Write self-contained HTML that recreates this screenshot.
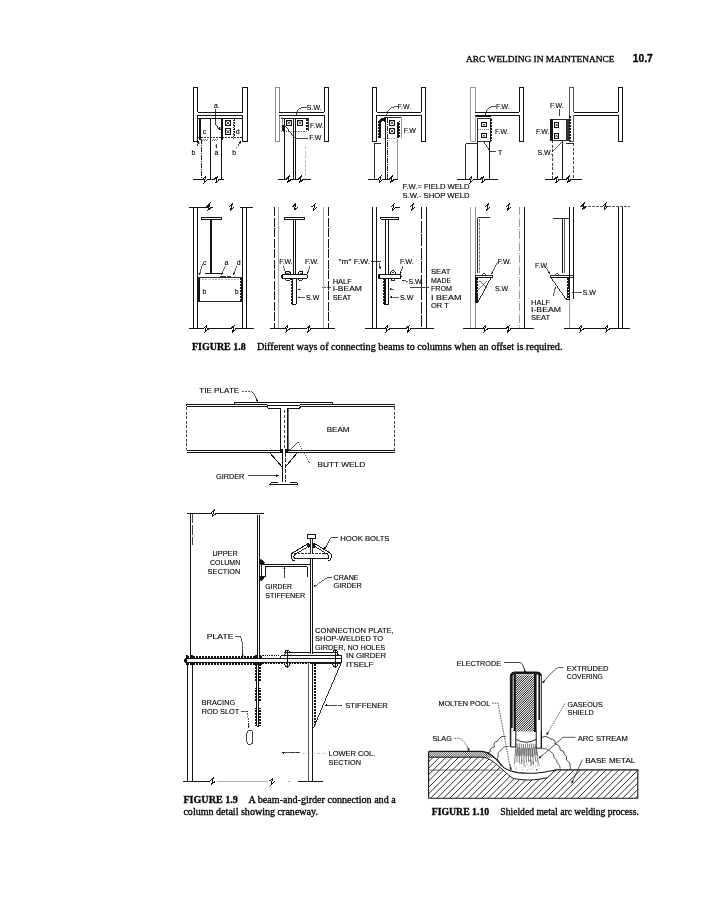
<!DOCTYPE html>
<html><head><meta charset="utf-8"><title>Arc Welding in Maintenance 10.7</title>
<style>html,body{margin:0;padding:0;background:#fff;}svg{display:block;filter:grayscale(100%);}
</style></head>
<body><svg width="718" height="900" viewBox="0 0 718 900" stroke-linecap="butt" shape-rendering="crispEdges">
<rect width="718" height="900" fill="#fff"/>
<text x="466.1" y="62.0" style="font-family:&quot;Liberation Serif&quot;,serif;font-size:9.2px;font-weight:normal;letter-spacing:0px" text-anchor="start" fill="#000" stroke="#000" stroke-width="0.3" textLength="148.5" lengthAdjust="spacingAndGlyphs">ARC WELDING IN MAINTENANCE</text>
<text x="632.7" y="62.0" style="font-family:&quot;Liberation Sans&quot;,sans-serif;font-size:10.2px;font-weight:bold;letter-spacing:0px" text-anchor="start" fill="#000" stroke="#000" stroke-width="0.3" textLength="20.1" lengthAdjust="spacingAndGlyphs">10.7</text>
<path d="M193.4,141.0 V87.0 H197.8 V112.1" stroke="#141414" stroke-width="1.0" fill="none"/>
<path d="M197.8,115.4 V141.0 H193.4" stroke="#141414" stroke-width="1.0" fill="none"/>
<path d="M242.6,112.1 V87.0 H247.0 V141.0 H242.6 V115.4" stroke="#141414" stroke-width="1.0" fill="none"/>
<line x1="197.8" y1="112.1" x2="242.6" y2="112.1" stroke="#141414" stroke-width="1.0"/>
<line x1="197.8" y1="115.4" x2="242.6" y2="115.4" stroke="#141414" stroke-width="1.0"/>
<path d="M275.0,141.0 V87.0 H279.4 V112.1" stroke="#8a8a8a" stroke-width="1.0" fill="none"/>
<path d="M279.4,115.4 V141.0 H275.0" stroke="#8a8a8a" stroke-width="1.0" fill="none"/>
<path d="M324.2,112.1 V87.0 H328.6 V141.0 H324.2 V115.4" stroke="#141414" stroke-width="1.0" fill="none"/>
<line x1="279.4" y1="112.1" x2="324.2" y2="112.1" stroke="#141414" stroke-width="1.0"/>
<line x1="279.4" y1="115.4" x2="324.2" y2="115.4" stroke="#141414" stroke-width="1.0"/>
<path d="M372.4,141.0 V87.0 H376.8 V112.1" stroke="#141414" stroke-width="1.0" fill="none"/>
<path d="M376.8,115.4 V141.0 H372.4" stroke="#141414" stroke-width="1.0" fill="none"/>
<path d="M421.4,112.1 V87.0 H425.8 V141.0 H421.4 V115.4" stroke="#141414" stroke-width="1.0" fill="none"/>
<line x1="376.8" y1="112.1" x2="421.4" y2="112.1" stroke="#141414" stroke-width="1.0"/>
<line x1="376.8" y1="115.4" x2="421.4" y2="115.4" stroke="#141414" stroke-width="1.0"/>
<path d="M470.9,141.0 V87.0 H475.3 V112.1" stroke="#999" stroke-width="1.0" fill="none"/>
<path d="M475.3,115.4 V141.0 H470.9" stroke="#999" stroke-width="1.0" fill="none"/>
<path d="M519.3,112.1 V87.0 H523.7 V141.0 H519.3 V115.4" stroke="#141414" stroke-width="1.0" fill="none"/>
<line x1="475.3" y1="112.1" x2="519.3" y2="112.1" stroke="#141414" stroke-width="1.0"/>
<line x1="475.3" y1="115.4" x2="519.3" y2="115.4" stroke="#141414" stroke-width="1.0"/>
<path d="M569.3,141.0 V87.0 H573.7 V112.1" stroke="#555" stroke-width="1.0" fill="none"/>
<path d="M573.7,115.4 V141.0 H569.3" stroke="#555" stroke-width="1.0" fill="none"/>
<path d="M618.1,112.1 V87.0 H622.5 V141.0 H618.1 V115.4" stroke="#141414" stroke-width="1.0" fill="none"/>
<line x1="573.7" y1="112.1" x2="618.1" y2="112.1" stroke="#141414" stroke-width="1.0"/>
<line x1="573.7" y1="115.4" x2="618.1" y2="115.4" stroke="#141414" stroke-width="1.0"/>
<line x1="198.0" y1="118.1" x2="242.6" y2="118.1" stroke="#141414" stroke-width="1.0"/>
<line x1="198.0" y1="137.3" x2="242.6" y2="137.3" stroke="#141414" stroke-width="0.9" stroke-dasharray="2,1"/>
<rect x="199.2" y="118.3" width="2.1" height="21.8" fill="#141414"/>
<path d="M201.5,140.2 q1,-1.2 2,0 q1,-1.2 2,0 q1,-1.2 2,0 M211.5,140.2 q1,-1.2 2,0 q1,-1.2 2,0 q1,-1.2 2,0" stroke="#141414" stroke-width="0.6" fill="none"/>
<line x1="210.6" y1="118.1" x2="210.6" y2="179.4" stroke="#141414" stroke-width="1.0"/>
<line x1="221.5" y1="118.1" x2="221.5" y2="179.4" stroke="#141414" stroke-width="1.0"/>
<line x1="221.8" y1="118.1" x2="221.8" y2="139.5" stroke="#141414" stroke-width="1.6"/>
<line x1="233.9" y1="118.1" x2="233.9" y2="138.5" stroke="#141414" stroke-width="0.9" stroke-dasharray="1,0.8"/>
<path d="M234.3,119.0h1.0 M234.3,120.5h1.0 M234.3,122.0h1.0 M234.3,123.5h1.0 M234.3,125.0h1.0 M234.3,126.5h1.0 M234.3,128.0h1.0 M234.3,129.5h1.0 M234.3,131.0h1.0 M234.3,132.5h1.0 M234.3,134.0h1.0 M234.3,135.5h1.0 M234.3,137.0h1.0" stroke="#141414" stroke-width="1.0" fill="none"/>
<line x1="201.4" y1="138.5" x2="201.4" y2="179.4" stroke="#141414" stroke-width="0.9" stroke-dasharray="5,1,1,1"/>
<rect x="225.1" y="120.0" width="5.8" height="5.8" rx="0" stroke="#141414" stroke-width="1.0" fill="none"/>
<path d="M226.3,121.2L229.7,124.6M229.7,121.2L226.3,124.6" stroke="#333" stroke-width="1" shape-rendering="auto"/>
<rect x="225.1" y="128.8" width="5.8" height="5.8" rx="0" stroke="#141414" stroke-width="1.0" fill="none"/>
<path d="M226.3,130.0L229.7,133.4M229.7,130.0L226.3,133.4" stroke="#333" stroke-width="1" shape-rendering="auto"/>
<path d="M215.3,108.5 V123.5 L220.2,129.2" stroke="#141414" stroke-width="0.8" fill="none"/>
<line x1="215.3" y1="123.5" x2="220.6" y2="129.6" stroke="#141414" stroke-width="0.8"/>
<path d="M220.6,129.6L218.1,128.6L219.9,127.0Z" stroke="#141414" stroke-width="0.3" fill="#141414"/>
<text x="214.0" y="107.8" style="font-family:&quot;Liberation Sans&quot;,sans-serif;font-size:7.8px;font-weight:normal;letter-spacing:0px" text-anchor="start" fill="#000" stroke="#000" stroke-width="0.12" textLength="3.9" lengthAdjust="spacingAndGlyphs">a</text>
<text x="202.8" y="133.6" style="font-family:&quot;Liberation Sans&quot;,sans-serif;font-size:7.8px;font-weight:normal;letter-spacing:0px" text-anchor="start" fill="#000" stroke="#000" stroke-width="0.12" textLength="3.5" lengthAdjust="spacingAndGlyphs">c</text>
<text x="235.8" y="133.6" style="font-family:&quot;Liberation Sans&quot;,sans-serif;font-size:7.8px;font-weight:normal;letter-spacing:0px" text-anchor="start" fill="#000" stroke="#000" stroke-width="0.12" textLength="3.9" lengthAdjust="spacingAndGlyphs">d</text>
<text x="191.5" y="155.3" style="font-family:&quot;Liberation Sans&quot;,sans-serif;font-size:7.8px;font-weight:normal;letter-spacing:0px" text-anchor="start" fill="#000" stroke="#000" stroke-width="0.12" textLength="3.9" lengthAdjust="spacingAndGlyphs">b</text>
<text x="214.6" y="154.6" style="font-family:&quot;Liberation Sans&quot;,sans-serif;font-size:7.8px;font-weight:normal;letter-spacing:0px" text-anchor="start" fill="#000" stroke="#000" stroke-width="0.12" textLength="3.9" lengthAdjust="spacingAndGlyphs">a</text>
<text x="232.3" y="154.6" style="font-family:&quot;Liberation Sans&quot;,sans-serif;font-size:7.8px;font-weight:normal;letter-spacing:0px" text-anchor="start" fill="#000" stroke="#000" stroke-width="0.12" textLength="3.9" lengthAdjust="spacingAndGlyphs">b</text>
<text x="236.3" y="150.6" style="font-family:&quot;Liberation Sans&quot;,sans-serif;font-size:5px;font-weight:normal;letter-spacing:0px" text-anchor="start" fill="#000" stroke="#000" stroke-width="0.12" textLength="0.8" lengthAdjust="spacingAndGlyphs">′</text>
<line x1="197.4" y1="146.2" x2="198.8" y2="141.0" stroke="#141414" stroke-width="0.8"/>
<path d="M198.8,141.0L199.3,143.6L197.0,143.0Z" stroke="#141414" stroke-width="0.3" fill="#141414"/>
<line x1="238.5" y1="145.5" x2="240.8" y2="140.8" stroke="#141414" stroke-width="0.8"/>
<path d="M240.8,140.8L240.8,143.5L238.7,142.4Z" stroke="#141414" stroke-width="0.3" fill="#141414"/>
<line x1="216.2" y1="144.0" x2="216.2" y2="147.5" stroke="#141414" stroke-width="0.7"/>
<path d="M216.2,147.5L215.3,145.9L217.1,145.9Z" stroke="#141414" stroke-width="0.3" fill="#141414"/>
<line x1="192.5" y1="179.4" x2="224.3" y2="179.4" stroke="#141414" stroke-width="1.0"/>
<rect x="203.5" y="178.7" width="3.0" height="1.4" fill="#fff"/>
<path d="M202.4,179.4 L205.7,176.3 L204.1,182.5 L207.6,179.6" stroke="#141414" stroke-width="1.0" fill="none"/>
<rect x="215.3" y="178.7" width="3.0" height="1.4" fill="#fff"/>
<path d="M214.2,179.4 L217.5,176.3 L215.9,182.5 L219.4,179.6" stroke="#141414" stroke-width="1.0" fill="none"/>
<line x1="280.9" y1="118.1" x2="308.4" y2="118.1" stroke="#141414" stroke-width="1.0"/>
<line x1="282.9" y1="117.1" x2="282.9" y2="131.3" stroke="#888" stroke-width="0.9"/>
<line x1="308.4" y1="118.1" x2="308.4" y2="131.0" stroke="#141414" stroke-width="0.8"/>
<path d="M306.2,119.0h2.2 M306.2,120.5h2.2 M306.2,122.0h2.2 M306.2,123.5h2.2 M306.2,125.0h2.2 M306.2,126.5h2.2 M306.2,128.0h2.2 M306.2,129.5h2.2" stroke="#141414" stroke-width="1.0" fill="none"/>
<line x1="280.9" y1="131.0" x2="308.4" y2="131.0" stroke="#141414" stroke-width="0.6" stroke-dasharray="1.5,1"/>
<line x1="284.2" y1="118.1" x2="284.2" y2="179.4" stroke="#141414" stroke-width="1.0"/>
<line x1="293.4" y1="118.1" x2="293.4" y2="179.4" stroke="#141414" stroke-width="1.0"/>
<line x1="295.9" y1="118.1" x2="295.9" y2="179.4" stroke="#141414" stroke-width="1.0"/>
<line x1="305.4" y1="146.0" x2="305.4" y2="179.4" stroke="#aaa" stroke-width="0.8" stroke-dasharray="3,1.5"/>
<rect x="286.2" y="120.0" width="5.4" height="5.4" rx="0" stroke="#141414" stroke-width="1.0" fill="none"/>
<path d="M287.4,121.2L290.4,124.2M290.4,121.2L287.4,124.2" stroke="#333" stroke-width="1" shape-rendering="auto"/>
<rect x="297.2" y="120.0" width="5.4" height="5.4" rx="0" stroke="#141414" stroke-width="1.0" fill="none"/>
<path d="M298.4,121.2L301.4,124.2M301.4,121.2L298.4,124.2" stroke="#333" stroke-width="1" shape-rendering="auto"/>
<path d="M284.5,125 L295.1,138.5 H308.4" stroke="#141414" stroke-width="0.8" fill="none"/>
<rect x="281.5" y="125.0" width="2.0" height="6.0" fill="#141414"/>
<path d="M306.5,107.2 Q300,107 298,110 L296.5,115" stroke="#141414" stroke-width="0.8" fill="none"/>
<text x="306.8" y="110.1" style="font-family:&quot;Liberation Sans&quot;,sans-serif;font-size:7.8px;font-weight:normal;letter-spacing:0px" text-anchor="start" fill="#000" stroke="#000" stroke-width="0.12" textLength="14.8" lengthAdjust="spacingAndGlyphs">S.W.</text>
<text x="310.0" y="127.6" style="font-family:&quot;Liberation Sans&quot;,sans-serif;font-size:7.8px;font-weight:normal;letter-spacing:0px" text-anchor="start" fill="#000" stroke="#000" stroke-width="0.12" textLength="13.6" lengthAdjust="spacingAndGlyphs">F.W.</text>
<text x="309.3" y="140.2" style="font-family:&quot;Liberation Sans&quot;,sans-serif;font-size:7.8px;font-weight:normal;letter-spacing:0px" text-anchor="start" fill="#000" stroke="#000" stroke-width="0.12" textLength="12.1" lengthAdjust="spacingAndGlyphs">F.W</text>
<line x1="278.4" y1="179.4" x2="311.0" y2="179.4" stroke="#141414" stroke-width="1.0"/>
<rect x="287.1" y="178.7" width="3.0" height="1.4" fill="#fff"/>
<path d="M286.0,179.4 L289.3,176.3 L287.7,182.5 L291.2,179.6" stroke="#141414" stroke-width="1.0" fill="none"/>
<rect x="299.1" y="178.7" width="3.0" height="1.4" fill="#fff"/>
<path d="M298.0,179.4 L301.3,176.3 L299.7,182.5 L303.2,179.6" stroke="#141414" stroke-width="1.0" fill="none"/>
<path d="M383.9,117.9 H401.0" stroke="#141414" stroke-width="0.9" fill="none"/>
<line x1="401.8" y1="117.0" x2="401.8" y2="138.4" stroke="#888" stroke-width="0.8"/>
<path d="M380.2,138.4 V122.5 Q380.2,119.2 383.2,119.2 Q385.2,119.4 385.4,121.5" stroke="#141414" stroke-width="2.3" fill="none"/>
<path d="M379.0,121.0h-1.2 M379.0,122.5h-1.2 M379.0,124.0h-1.2 M379.0,125.5h-1.2 M379.0,127.0h-1.2 M379.0,128.5h-1.2 M379.0,130.0h-1.2 M379.0,131.5h-1.2 M379.0,133.0h-1.2 M379.0,134.5h-1.2 M379.0,136.0h-1.2 M379.0,137.5h-1.2" stroke="#141414" stroke-width="1.0" fill="none"/>
<rect x="397.4" y="121.6" width="2.0" height="16.8" fill="#141414"/>
<path d="M399.4,121.6h1.0 M399.4,123.1h1.0 M399.4,124.6h1.0 M399.4,126.1h1.0 M399.4,127.6h1.0 M399.4,129.1h1.0 M399.4,130.6h1.0 M399.4,132.1h1.0 M399.4,133.6h1.0 M399.4,135.1h1.0 M399.4,136.6h1.0" stroke="#141414" stroke-width="1.0" fill="none"/>
<line x1="385.5" y1="118.2" x2="385.5" y2="179.4" stroke="#141414" stroke-width="1.2"/>
<line x1="387.6" y1="118.2" x2="387.6" y2="179.4" stroke="#141414" stroke-width="0.9" stroke-dasharray="5,1,1,1"/>
<line x1="383.0" y1="138.4" x2="397.5" y2="138.4" stroke="#777" stroke-width="0.7" stroke-dasharray="1.5,1"/>
<line x1="397.7" y1="138.5" x2="397.7" y2="179.4" stroke="#777" stroke-width="0.8"/>
<path d="M374.3,179.4V143.4H380.5" stroke="#141414" stroke-width="0.9" fill="none"/>
<rect x="389.3" y="120.0" width="5.4" height="5.4" rx="0" stroke="#141414" stroke-width="1.0" fill="none"/>
<path d="M390.5,121.2L393.5,124.2M393.5,121.2L390.5,124.2" stroke="#333" stroke-width="1" shape-rendering="auto"/>
<rect x="389.3" y="128.4" width="5.4" height="5.4" rx="0" stroke="#141414" stroke-width="1.0" fill="none"/>
<path d="M390.5,129.6L393.5,132.6M393.5,129.6L390.5,132.6" stroke="#333" stroke-width="1" shape-rendering="auto"/>
<path d="M397.5,106.7 H394 Q390,107 388,111 L386,116" stroke="#141414" stroke-width="0.8" fill="none"/>
<text x="397.6" y="109.2" style="font-family:&quot;Liberation Sans&quot;,sans-serif;font-size:7.8px;font-weight:normal;letter-spacing:0px" text-anchor="start" fill="#000" stroke="#000" stroke-width="0.12" textLength="13.6" lengthAdjust="spacingAndGlyphs">F.W.</text>
<text x="403.8" y="132.6" style="font-family:&quot;Liberation Sans&quot;,sans-serif;font-size:7.8px;font-weight:normal;letter-spacing:0px" text-anchor="start" fill="#000" stroke="#000" stroke-width="0.12" textLength="12.1" lengthAdjust="spacingAndGlyphs">F.W</text>
<line x1="368.4" y1="179.4" x2="398.4" y2="179.4" stroke="#141414" stroke-width="1.0"/>
<rect x="378.7" y="178.7" width="3.0" height="1.4" fill="#fff"/>
<path d="M377.6,179.4 L380.9,176.3 L379.3,182.5 L382.8,179.6" stroke="#141414" stroke-width="1.0" fill="none"/>
<rect x="390.1" y="178.7" width="3.0" height="1.4" fill="#fff"/>
<path d="M389.0,179.4 L392.3,176.3 L390.7,182.5 L394.2,179.6" stroke="#141414" stroke-width="1.0" fill="none"/>
<text x="402.6" y="188.6" style="font-family:&quot;Liberation Sans&quot;,sans-serif;font-size:7.3px;font-weight:normal;letter-spacing:0px" text-anchor="start" fill="#000" stroke="#000" stroke-width="0.12" textLength="67" lengthAdjust="spacingAndGlyphs">F.W.= FIELD WELD</text>
<text x="402.6" y="197.8" style="font-family:&quot;Liberation Sans&quot;,sans-serif;font-size:7.3px;font-weight:normal;letter-spacing:0px" text-anchor="start" fill="#000" stroke="#000" stroke-width="0.12" textLength="67" lengthAdjust="spacingAndGlyphs">S.W.- SHOP WELD</text>
<rect x="475.9" y="115.2" width="15.1" height="2.2" fill="#141414"/>
<rect x="477.6" y="118.4" width="12.5" height="23.4" rx="0" stroke="#141414" stroke-width="0.9" fill="none"/>
<line x1="477.6" y1="129.5" x2="490.1" y2="129.5" stroke="#141414" stroke-width="0.6" stroke-dasharray="1,1"/>
<path d="M490.1,119.0h1.6 M490.1,120.5h1.6 M490.1,122.0h1.6 M490.1,123.5h1.6 M490.1,125.0h1.6 M490.1,126.5h1.6 M490.1,128.0h1.6 M490.1,129.5h1.6 M490.1,131.0h1.6 M490.1,132.5h1.6 M490.1,134.0h1.6 M490.1,135.5h1.6 M490.1,137.0h1.6 M490.1,138.5h1.6 M490.1,140.0h1.6" stroke="#141414" stroke-width="1.0" fill="none"/>
<rect x="481.8" y="122.6" width="4.2" height="4.2" rx="0" stroke="#141414" stroke-width="1.0" fill="none"/>
<path d="M483.0,123.8L484.8,125.6M484.8,123.8L483.0,125.6" stroke="#333" stroke-width="1" shape-rendering="auto"/>
<rect x="481.8" y="133.5" width="4.2" height="4.2" rx="0" stroke="#141414" stroke-width="1.0" fill="none"/>
<path d="M483.0,134.7L484.8,136.5M484.8,134.7L483.0,136.5" stroke="#333" stroke-width="1" shape-rendering="auto"/>
<line x1="477.6" y1="141.8" x2="477.6" y2="179.4" stroke="#141414" stroke-width="1.0"/>
<line x1="489.3" y1="141.8" x2="489.3" y2="179.4" stroke="#141414" stroke-width="1.0"/>
<path d="M465.9,179.4V143.5H477.6" stroke="#141414" stroke-width="0.9" fill="none"/>
<path d="M496,106.2 H493 Q488,107 486.5,111 L485.5,115" stroke="#141414" stroke-width="0.8" fill="none"/>
<path d="M484,142 L490,151.6 H496" stroke="#141414" stroke-width="0.8" fill="none"/>
<text x="496.0" y="109.2" style="font-family:&quot;Liberation Sans&quot;,sans-serif;font-size:7.8px;font-weight:normal;letter-spacing:0px" text-anchor="start" fill="#000" stroke="#000" stroke-width="0.12" textLength="13.6" lengthAdjust="spacingAndGlyphs">F.W.</text>
<text x="495.0" y="133.5" style="font-family:&quot;Liberation Sans&quot;,sans-serif;font-size:7.8px;font-weight:normal;letter-spacing:0px" text-anchor="start" fill="#000" stroke="#000" stroke-width="0.12" textLength="13.6" lengthAdjust="spacingAndGlyphs">F.W.</text>
<text x="498.0" y="155.0" style="font-family:&quot;Liberation Sans&quot;,sans-serif;font-size:7.8px;font-weight:normal;letter-spacing:0px" text-anchor="start" fill="#000" stroke="#000" stroke-width="0.12" textLength="4.3" lengthAdjust="spacingAndGlyphs">T</text>
<line x1="456.7" y1="179.4" x2="497.6" y2="179.4" stroke="#141414" stroke-width="1.0"/>
<rect x="469.5" y="178.7" width="3.0" height="1.4" fill="#fff"/>
<path d="M468.4,179.4 L471.7,176.3 L470.1,182.5 L473.6,179.6" stroke="#141414" stroke-width="1.0" fill="none"/>
<rect x="481.3" y="178.7" width="3.0" height="1.4" fill="#fff"/>
<path d="M480.2,179.4 L483.5,176.3 L481.9,182.5 L485.4,179.6" stroke="#141414" stroke-width="1.0" fill="none"/>
<rect x="550.0" y="119.3" width="18.5" height="20.9" rx="0" stroke="#141414" stroke-width="0.9" fill="none"/>
<rect x="550.0" y="119.3" width="2.6" height="20.9" fill="#141414"/>
<rect x="566.0" y="119.3" width="2.5" height="20.9" fill="#333"/>
<path d="M568.5,116.0h2.5 M568.5,117.5h2.5 M568.5,119.0h2.5 M568.5,120.5h2.5 M568.5,122.0h2.5 M568.5,123.5h2.5 M568.5,125.0h2.5 M568.5,126.5h2.5 M568.5,128.0h2.5 M568.5,129.5h2.5 M568.5,131.0h2.5 M568.5,132.5h2.5 M568.5,134.0h2.5 M568.5,135.5h2.5 M568.5,137.0h2.5 M568.5,138.5h2.5 M568.5,140.0h2.5" stroke="#141414" stroke-width="1.0" fill="none"/>
<rect x="554.3" y="122.6" width="4.6" height="4.6" rx="0" stroke="#141414" stroke-width="1.0" fill="none"/>
<path d="M555.5,123.8L557.7,126.0M557.7,123.8L555.5,126.0" stroke="#333" stroke-width="1" shape-rendering="auto"/>
<rect x="554.3" y="133.5" width="4.6" height="4.6" rx="0" stroke="#141414" stroke-width="1.0" fill="none"/>
<path d="M555.5,134.7L557.7,136.9M557.7,134.7L555.5,136.9" stroke="#333" stroke-width="1" shape-rendering="auto"/>
<line x1="552.6" y1="140.2" x2="552.6" y2="179.4" stroke="#141414" stroke-width="0.8" stroke-dasharray="3,1.5"/>
<line x1="562.6" y1="140.2" x2="562.6" y2="179.4" stroke="#141414" stroke-width="1.0"/>
<line x1="573.5" y1="143.2" x2="573.5" y2="179.4" stroke="#141414" stroke-width="0.8" stroke-dasharray="3,1.5"/>
<line x1="566.0" y1="143.2" x2="573.5" y2="143.2" stroke="#141414" stroke-width="0.9"/>
<path d="M559.5,109 V116" stroke="#141414" stroke-width="0.8" fill="none"/>
<path d="M552.5,151.6 L563,141" stroke="#141414" stroke-width="0.7" fill="none"/>
<text x="550.0" y="107.6" style="font-family:&quot;Liberation Sans&quot;,sans-serif;font-size:7.8px;font-weight:normal;letter-spacing:0px" text-anchor="start" fill="#000" stroke="#000" stroke-width="0.12" textLength="13.6" lengthAdjust="spacingAndGlyphs">F.W.</text>
<text x="535.9" y="133.5" style="font-family:&quot;Liberation Sans&quot;,sans-serif;font-size:7.8px;font-weight:normal;letter-spacing:0px" text-anchor="start" fill="#000" stroke="#000" stroke-width="0.12" textLength="13.6" lengthAdjust="spacingAndGlyphs">F.W.</text>
<text x="537.5" y="155.2" style="font-family:&quot;Liberation Sans&quot;,sans-serif;font-size:7.8px;font-weight:normal;letter-spacing:0px" text-anchor="start" fill="#000" stroke="#000" stroke-width="0.12" textLength="14.8" lengthAdjust="spacingAndGlyphs">S.W.</text>
<line x1="545.0" y1="179.4" x2="581.8" y2="179.4" stroke="#141414" stroke-width="1.0"/>
<rect x="555.3" y="178.7" width="3.0" height="1.4" fill="#fff"/>
<path d="M554.2,179.4 L557.5,176.3 L555.9,182.5 L559.4,179.6" stroke="#141414" stroke-width="1.0" fill="none"/>
<rect x="567.0" y="178.7" width="3.0" height="1.4" fill="#fff"/>
<path d="M565.9,179.4 L569.2,176.3 L567.6,182.5 L571.1,179.6" stroke="#141414" stroke-width="1.0" fill="none"/>
<line x1="193.7" y1="207.0" x2="193.7" y2="328.7" stroke="#141414" stroke-width="1.0"/>
<line x1="197.5" y1="207.0" x2="197.5" y2="328.7" stroke="#141414" stroke-width="1.0"/>
<line x1="242.7" y1="207.0" x2="242.7" y2="328.7" stroke="#141414" stroke-width="1.0"/>
<line x1="246.9" y1="207.0" x2="246.9" y2="328.7" stroke="#141414" stroke-width="1.0"/>
<line x1="189.2" y1="207.0" x2="213.4" y2="207.0" stroke="#141414" stroke-width="1.0"/>
<rect x="207.5" y="206.3" width="3.0" height="1.4" fill="#fff"/>
<path d="M206.4,207.0 L209.7,203.9 L208.1,210.1 L211.6,207.2" stroke="#141414" stroke-width="1.0" fill="none"/>
<line x1="240.2" y1="207.0" x2="252.7" y2="207.0" stroke="#141414" stroke-width="1.0"/>
<path d="M228.9,207.0 L232.2,203.9 L230.6,210.1 L234.1,207.2" stroke="#141414" stroke-width="1.0" fill="none"/>
<rect x="201.4" y="217.6" width="20.1" height="2.1" rx="0.8" stroke="#141414" stroke-width="1.0" fill="none"/>
<line x1="210.6" y1="219.7" x2="210.6" y2="273.2" stroke="#141414" stroke-width="1.8"/>
<path d="M198.0,301.1 V277.5 H241.8 V301.1 Z" stroke="#141414" stroke-width="0.9" fill="none"/>
<line x1="199.0" y1="279.2" x2="241.0" y2="279.2" stroke="#999" stroke-width="0.7" stroke-dasharray="2,1.2"/>
<path d="M205,273.2 H222.5" stroke="#141414" stroke-width="1.0" fill="none"/>
<rect x="198.0" y="277.5" width="1.8" height="23.6" fill="#141414"/>
<path d="M241.8,278.0h-1.8 M241.8,279.5h-1.8 M241.8,281.0h-1.8 M241.8,282.5h-1.8 M241.8,284.0h-1.8 M241.8,285.5h-1.8 M241.8,287.0h-1.8 M241.8,288.5h-1.8 M241.8,290.0h-1.8 M241.8,291.5h-1.8 M241.8,293.0h-1.8 M241.8,294.5h-1.8 M241.8,296.0h-1.8 M241.8,297.5h-1.8 M241.8,299.0h-1.8 M241.8,300.5h-1.8" stroke="#141414" stroke-width="1.0" fill="none"/>
<line x1="241.3" y1="277.5" x2="241.3" y2="301.1" stroke="#141414" stroke-width="1.0"/>
<path d="M218.5,277.3 q2,-2.5 4,0 M222,277.3 q2.2,-3 4.4,0 M227,277.3 q2,-2.5 4,0" stroke="#141414" stroke-width="0.8" fill="none"/>
<text x="203.0" y="265.3" style="font-family:&quot;Liberation Sans&quot;,sans-serif;font-size:7.8px;font-weight:normal;letter-spacing:0px" text-anchor="start" fill="#000" stroke="#000" stroke-width="0.12" textLength="3.5" lengthAdjust="spacingAndGlyphs">c</text>
<text x="224.5" y="264.8" style="font-family:&quot;Liberation Sans&quot;,sans-serif;font-size:7.8px;font-weight:normal;letter-spacing:0px" text-anchor="start" fill="#000" stroke="#000" stroke-width="0.12" textLength="3.9" lengthAdjust="spacingAndGlyphs">a</text>
<text x="236.8" y="264.8" style="font-family:&quot;Liberation Sans&quot;,sans-serif;font-size:7.8px;font-weight:normal;letter-spacing:0px" text-anchor="start" fill="#000" stroke="#000" stroke-width="0.12" textLength="3.9" lengthAdjust="spacingAndGlyphs">d</text>
<text x="202.6" y="293.8" style="font-family:&quot;Liberation Sans&quot;,sans-serif;font-size:7.8px;font-weight:normal;letter-spacing:0px" text-anchor="start" fill="#000" stroke="#000" stroke-width="0.12" textLength="3.9" lengthAdjust="spacingAndGlyphs">b</text>
<text x="234.8" y="293.8" style="font-family:&quot;Liberation Sans&quot;,sans-serif;font-size:7.8px;font-weight:normal;letter-spacing:0px" text-anchor="start" fill="#000" stroke="#000" stroke-width="0.12" textLength="3.9" lengthAdjust="spacingAndGlyphs">b</text>
<line x1="202.4" y1="263.5" x2="199.2" y2="274.8" stroke="#141414" stroke-width="0.7"/>
<path d="M199.2,274.8L198.8,272.8L200.6,273.3Z" stroke="#141414" stroke-width="0.3" fill="#141414"/>
<line x1="225.5" y1="266.0" x2="221.6" y2="274.5" stroke="#141414" stroke-width="0.7"/>
<path d="M221.6,274.5L221.5,272.5L223.2,273.2Z" stroke="#141414" stroke-width="0.3" fill="#141414"/>
<line x1="237.0" y1="266.0" x2="233.4" y2="274.5" stroke="#141414" stroke-width="0.7"/>
<path d="M233.4,274.5L233.3,272.5L234.9,273.2Z" stroke="#141414" stroke-width="0.3" fill="#141414"/>
<line x1="189.2" y1="328.7" x2="253.5" y2="328.7" stroke="#141414" stroke-width="1.0"/>
<rect x="204.4" y="328.0" width="3.0" height="1.4" fill="#fff"/>
<path d="M203.3,328.7 L206.6,325.6 L205.0,331.8 L208.5,328.9" stroke="#141414" stroke-width="1.0" fill="none"/>
<rect x="232.0" y="328.0" width="3.0" height="1.4" fill="#fff"/>
<path d="M230.9,328.7 L234.2,325.6 L232.6,331.8 L236.1,328.9" stroke="#141414" stroke-width="1.0" fill="none"/>
<line x1="274.4" y1="207.0" x2="274.4" y2="328.7" stroke="#141414" stroke-width="1.0" stroke-dasharray="9,1.5"/>
<line x1="278.6" y1="207.0" x2="278.6" y2="328.7" stroke="#141414" stroke-width="1.0"/>
<line x1="323.1" y1="207.0" x2="323.1" y2="328.7" stroke="#141414" stroke-width="1.0"/>
<line x1="328.5" y1="207.0" x2="328.5" y2="328.7" stroke="#141414" stroke-width="1.0" stroke-dasharray="9,1.5"/>
<line x1="278.6" y1="207.0" x2="278.6" y2="328.7" stroke="#fff" stroke-width="1.0"/>
<line x1="278.6" y1="207.0" x2="278.6" y2="328.7" stroke="#aaa" stroke-width="1.0"/>
<line x1="323.1" y1="207.0" x2="323.1" y2="328.7" stroke="#fff" stroke-width="1.0"/>
<line x1="323.1" y1="207.0" x2="323.1" y2="328.7" stroke="#aaa" stroke-width="1.0"/>
<path d="M292.5,207.0 L295.8,203.9 L294.2,210.1 L297.7,207.2" stroke="#141414" stroke-width="1.0" fill="none"/>
<path d="M311.7,207.0 L315.0,203.9 L313.4,210.1 L316.9,207.2" stroke="#141414" stroke-width="1.0" fill="none"/>
<rect x="284.2" y="217.6" width="20.6" height="2.1" rx="0.8" stroke="#141414" stroke-width="1.0" fill="none"/>
<line x1="293.4" y1="219.7" x2="293.4" y2="274.6" stroke="#141414" stroke-width="1.0"/>
<line x1="295.8" y1="219.7" x2="295.8" y2="274.6" stroke="#141414" stroke-width="1.0"/>
<path d="M285.6,274.6 q0,-3.6 2.4,-3.6 q2.4,0 2.4,3.6" stroke="#141414" stroke-width="1.0" fill="none"/>
<line x1="286.8" y1="273.0" x2="289.2" y2="273.0" stroke="#141414" stroke-width="0.8"/>
<path d="M285.8,278.5 q0,2.4 2.2,2.4 q2.2,0 2.2,-2.4" stroke="#141414" stroke-width="0.9" fill="none"/>
<path d="M298.3,274.6 q0,-3.6 2.4,-3.6 q2.4,0 2.4,3.6" stroke="#141414" stroke-width="1.0" fill="none"/>
<line x1="299.5" y1="273.0" x2="301.9" y2="273.0" stroke="#141414" stroke-width="0.8"/>
<path d="M298.5,278.5 q0,2.4 2.2,2.4 q2.2,0 2.2,-2.4" stroke="#141414" stroke-width="0.9" fill="none"/>
<rect x="281.7" y="274.6" width="25.8" height="3.9" rx="1.8" stroke="#141414" stroke-width="1.2" fill="none"/>
<line x1="283.2" y1="278.3" x2="306.0" y2="278.3" stroke="#141414" stroke-width="1.6"/>
<rect x="281.7" y="275.2" width="1.6" height="2.7" fill="#141414"/>
<line x1="292.0" y1="278.5" x2="292.0" y2="304.3" stroke="#141414" stroke-width="1.0"/>
<line x1="296.3" y1="278.5" x2="296.3" y2="304.3" stroke="#141414" stroke-width="1.0"/>
<line x1="292.0" y1="304.3" x2="296.3" y2="304.3" stroke="#141414" stroke-width="1.0"/>
<rect x="291.7" y="278.5" width="1.7" height="25.8" fill="#141414"/>
<path d="M291.7,279.5h-1.2 M291.7,281.0h-1.2 M291.7,282.5h-1.2 M291.7,284.0h-1.2 M291.7,285.5h-1.2 M291.7,287.0h-1.2 M291.7,288.5h-1.2 M291.7,290.0h-1.2 M291.7,291.5h-1.2 M291.7,293.0h-1.2 M291.7,294.5h-1.2 M291.7,296.0h-1.2 M291.7,297.5h-1.2 M291.7,299.0h-1.2 M291.7,300.5h-1.2 M291.7,302.0h-1.2 M291.7,303.5h-1.2" stroke="#141414" stroke-width="1.0" fill="none"/>
<path d="M296.3,279.5h1.0 M296.3,281.5h1.0 M296.3,283.5h1.0 M296.3,285.5h1.0 M296.3,287.5h1.0 M296.3,289.5h1.0 M296.3,291.5h1.0 M296.3,293.5h1.0 M296.3,295.5h1.0 M296.3,297.5h1.0 M296.3,299.5h1.0 M296.3,301.5h1.0 M296.3,303.5h1.0" stroke="#141414" stroke-width="1.0" fill="none"/>
<text x="279.2" y="264.4" style="font-family:&quot;Liberation Sans&quot;,sans-serif;font-size:7.8px;font-weight:normal;letter-spacing:0px" text-anchor="start" fill="#000" stroke="#000" stroke-width="0.12" textLength="13.6" lengthAdjust="spacingAndGlyphs">F.W.</text>
<text x="305.0" y="264.4" style="font-family:&quot;Liberation Sans&quot;,sans-serif;font-size:7.8px;font-weight:normal;letter-spacing:0px" text-anchor="start" fill="#000" stroke="#000" stroke-width="0.12" textLength="13.6" lengthAdjust="spacingAndGlyphs">F.W.</text>
<text x="306.0" y="299.5" style="font-family:&quot;Liberation Sans&quot;,sans-serif;font-size:7.8px;font-weight:normal;letter-spacing:0px" text-anchor="start" fill="#000" stroke="#000" stroke-width="0.12" textLength="13.3" lengthAdjust="spacingAndGlyphs">S.W</text>
<line x1="283.5" y1="266.0" x2="286.0" y2="273.5" stroke="#141414" stroke-width="0.7"/>
<path d="M286.0,273.5L284.6,272.1L286.3,271.5Z" stroke="#141414" stroke-width="0.3" fill="#141414"/>
<line x1="310.0" y1="266.0" x2="307.5" y2="273.5" stroke="#141414" stroke-width="0.7"/>
<path d="M307.5,273.5L307.2,271.5L308.9,272.1Z" stroke="#141414" stroke-width="0.3" fill="#141414"/>
<line x1="305.0" y1="297.2" x2="297.5" y2="297.2" stroke="#141414" stroke-width="0.7"/>
<path d="M297.5,297.2L299.3,296.3L299.3,298.1Z" stroke="#141414" stroke-width="0.3" fill="#141414"/>
<line x1="301.0" y1="289.3" x2="297.5" y2="289.3" stroke="#141414" stroke-width="0.7"/>
<path d="M297.5,289.3L299.3,288.4L299.3,290.2Z" stroke="#141414" stroke-width="0.3" fill="#141414"/>
<text x="332.7" y="283.6" style="font-family:&quot;Liberation Sans&quot;,sans-serif;font-size:7.8px;font-weight:normal;letter-spacing:0px" text-anchor="start" fill="#000" stroke="#000" stroke-width="0.12" textLength="19.2" lengthAdjust="spacingAndGlyphs">HALF</text>
<text x="332.7" y="291.1" style="font-family:&quot;Liberation Sans&quot;,sans-serif;font-size:7.8px;font-weight:normal;letter-spacing:0px" text-anchor="start" fill="#000" stroke="#000" stroke-width="0.12" textLength="29.2" lengthAdjust="spacingAndGlyphs">I-BEAM</text>
<text x="332.7" y="299.5" style="font-family:&quot;Liberation Sans&quot;,sans-serif;font-size:7.8px;font-weight:normal;letter-spacing:0px" text-anchor="start" fill="#000" stroke="#000" stroke-width="0.12" textLength="18.5" lengthAdjust="spacingAndGlyphs">SEAT</text>
<line x1="321.5" y1="287.8" x2="332.0" y2="287.8" stroke="#141414" stroke-width="0.7" stroke-dasharray="1.5,1"/>
<line x1="270.0" y1="328.7" x2="335.0" y2="328.7" stroke="#141414" stroke-width="1.0"/>
<rect x="285.5" y="328.0" width="3.0" height="1.4" fill="#fff"/>
<path d="M284.4,328.7 L287.7,325.6 L286.1,331.8 L289.6,328.9" stroke="#141414" stroke-width="1.0" fill="none"/>
<rect x="307.3" y="328.0" width="3.0" height="1.4" fill="#fff"/>
<path d="M306.2,328.7 L309.5,325.6 L307.9,331.8 L311.4,328.9" stroke="#141414" stroke-width="1.0" fill="none"/>
<line x1="372.0" y1="207.0" x2="372.0" y2="328.7" stroke="#141414" stroke-width="1.0"/>
<line x1="376.4" y1="207.0" x2="376.4" y2="328.7" stroke="#141414" stroke-width="1.0"/>
<line x1="421.5" y1="207.0" x2="421.5" y2="328.7" stroke="#141414" stroke-width="1.0" stroke-dasharray="12,1.5"/>
<line x1="426.0" y1="207.0" x2="426.0" y2="328.7" stroke="#141414" stroke-width="1.0"/>
<line x1="392.0" y1="207.0" x2="399.5" y2="207.0" stroke="#141414" stroke-width="1.0"/>
<rect x="391.9" y="206.3" width="3.0" height="1.4" fill="#fff"/>
<path d="M390.8,207.0 L394.1,203.9 L392.5,210.1 L396.0,207.2" stroke="#141414" stroke-width="1.0" fill="none"/>
<path d="M410.0,207.0 L413.3,203.9 L411.7,210.1 L415.2,207.2" stroke="#141414" stroke-width="1.0" fill="none"/>
<rect x="380.9" y="217.0" width="17.9" height="2.2" rx="0.8" stroke="#141414" stroke-width="1.0" fill="none"/>
<line x1="385.8" y1="219.2" x2="385.8" y2="274.4" stroke="#141414" stroke-width="1.0"/>
<line x1="388.0" y1="219.2" x2="388.0" y2="274.4" stroke="#141414" stroke-width="1.0"/>
<path d="M390.6,274.4 q0,-3.6 2.4,-3.6 q2.4,0 2.4,3.6" stroke="#141414" stroke-width="1.0" fill="none"/>
<line x1="391.8" y1="272.8" x2="394.2" y2="272.8" stroke="#141414" stroke-width="0.8"/>
<path d="M390.8,278.6 q0,2.4 2.2,2.4 q2.2,0 2.2,-2.4" stroke="#141414" stroke-width="0.9" fill="none"/>
<rect x="378.4" y="274.4" width="22.6" height="4.2" rx="1.8" stroke="#141414" stroke-width="1.2" fill="none"/>
<line x1="379.9" y1="278.4" x2="399.5" y2="278.4" stroke="#141414" stroke-width="1.6"/>
<rect x="378.4" y="275.0" width="1.6" height="3.0" fill="#141414"/>
<line x1="384.2" y1="278.6" x2="384.2" y2="304.5" stroke="#141414" stroke-width="1.0"/>
<line x1="388.4" y1="278.6" x2="388.4" y2="304.5" stroke="#141414" stroke-width="1.0"/>
<line x1="384.2" y1="304.5" x2="388.4" y2="304.5" stroke="#141414" stroke-width="1.0"/>
<rect x="383.9" y="278.6" width="1.7" height="25.9" fill="#141414"/>
<path d="M383.9,279.6h-1.2 M383.9,281.1h-1.2 M383.9,282.6h-1.2 M383.9,284.1h-1.2 M383.9,285.6h-1.2 M383.9,287.1h-1.2 M383.9,288.6h-1.2 M383.9,290.1h-1.2 M383.9,291.6h-1.2 M383.9,293.1h-1.2 M383.9,294.6h-1.2 M383.9,296.1h-1.2 M383.9,297.6h-1.2 M383.9,299.1h-1.2 M383.9,300.6h-1.2 M383.9,302.1h-1.2 M383.9,303.6h-1.2" stroke="#141414" stroke-width="1.0" fill="none"/>
<path d="M388.4,279.6h1.0 M388.4,281.6h1.0 M388.4,283.6h1.0 M388.4,285.6h1.0 M388.4,287.6h1.0 M388.4,289.6h1.0 M388.4,291.6h1.0 M388.4,293.6h1.0 M388.4,295.6h1.0 M388.4,297.6h1.0 M388.4,299.6h1.0 M388.4,301.6h1.0 M388.4,303.6h1.0" stroke="#141414" stroke-width="1.0" fill="none"/>
<text x="338.5" y="264.4" style="font-family:&quot;Liberation Sans&quot;,sans-serif;font-size:7.8px;font-weight:normal;letter-spacing:0px" text-anchor="start" fill="#000" stroke="#000" stroke-width="0.12" textLength="31.5" lengthAdjust="spacingAndGlyphs">"m" F.W.</text>
<line x1="370.5" y1="261.2" x2="380.5" y2="261.2" stroke="#141414" stroke-width="0.8"/>
<line x1="379.0" y1="263.0" x2="380.3" y2="268.5" stroke="#141414" stroke-width="0.7"/>
<path d="M380.3,268.5L379.1,267.1L380.8,266.7Z" stroke="#141414" stroke-width="0.3" fill="#141414"/>
<text x="400.0" y="264.4" style="font-family:&quot;Liberation Sans&quot;,sans-serif;font-size:7.8px;font-weight:normal;letter-spacing:0px" text-anchor="start" fill="#000" stroke="#000" stroke-width="0.12" textLength="13.6" lengthAdjust="spacingAndGlyphs">F.W.</text>
<text x="408.5" y="283.6" style="font-family:&quot;Liberation Sans&quot;,sans-serif;font-size:7.8px;font-weight:normal;letter-spacing:0px" text-anchor="start" fill="#000" stroke="#000" stroke-width="0.12" textLength="14.8" lengthAdjust="spacingAndGlyphs">S.W.</text>
<text x="400.0" y="299.5" style="font-family:&quot;Liberation Sans&quot;,sans-serif;font-size:7.8px;font-weight:normal;letter-spacing:0px" text-anchor="start" fill="#000" stroke="#000" stroke-width="0.12" textLength="13.3" lengthAdjust="spacingAndGlyphs">S.W</text>
<line x1="403.0" y1="266.0" x2="400.2" y2="273.5" stroke="#141414" stroke-width="0.7"/>
<path d="M400.2,273.5L400.0,271.5L401.7,272.1Z" stroke="#141414" stroke-width="0.3" fill="#141414"/>
<line x1="408.0" y1="281.5" x2="401.5" y2="280.5" stroke="#141414" stroke-width="0.7"/>
<path d="M401.5,280.5L403.4,279.9L403.1,281.7Z" stroke="#141414" stroke-width="0.3" fill="#141414"/>
<line x1="399.0" y1="297.0" x2="390.0" y2="297.0" stroke="#141414" stroke-width="0.7"/>
<path d="M390.0,297.0L391.8,296.1L391.8,297.9Z" stroke="#141414" stroke-width="0.3" fill="#141414"/>
<line x1="393.5" y1="289.0" x2="389.5" y2="289.0" stroke="#141414" stroke-width="0.7"/>
<path d="M389.5,289.0L391.3,288.1L391.3,289.9Z" stroke="#141414" stroke-width="0.3" fill="#141414"/>
<line x1="410.0" y1="287.8" x2="429.0" y2="287.8" stroke="#141414" stroke-width="0.8"/>
<text x="431.0" y="274.4" style="font-family:&quot;Liberation Sans&quot;,sans-serif;font-size:7.8px;font-weight:normal;letter-spacing:0px" text-anchor="start" fill="#000" stroke="#000" stroke-width="0.12" textLength="19.4" lengthAdjust="spacingAndGlyphs">SEAT</text>
<text x="431.0" y="282.8" style="font-family:&quot;Liberation Sans&quot;,sans-serif;font-size:7.8px;font-weight:normal;letter-spacing:0px" text-anchor="start" fill="#000" stroke="#000" stroke-width="0.12" textLength="20.0" lengthAdjust="spacingAndGlyphs">MADE</text>
<text x="431.0" y="291.1" style="font-family:&quot;Liberation Sans&quot;,sans-serif;font-size:7.8px;font-weight:normal;letter-spacing:0px" text-anchor="start" fill="#000" stroke="#000" stroke-width="0.12" textLength="21.0" lengthAdjust="spacingAndGlyphs">FROM</text>
<text x="431.0" y="299.5" style="font-family:&quot;Liberation Sans&quot;,sans-serif;font-size:7.8px;font-weight:normal;letter-spacing:0px" text-anchor="start" fill="#000" stroke="#000" stroke-width="0.12" textLength="30.4" lengthAdjust="spacingAndGlyphs">I BEAM</text>
<text x="431.0" y="307.9" style="font-family:&quot;Liberation Sans&quot;,sans-serif;font-size:7.8px;font-weight:normal;letter-spacing:0px" text-anchor="start" fill="#000" stroke="#000" stroke-width="0.12" textLength="17.7" lengthAdjust="spacingAndGlyphs">OR T</text>
<line x1="365.0" y1="328.7" x2="434.4" y2="328.7" stroke="#141414" stroke-width="1.0"/>
<rect x="385.5" y="328.0" width="3.0" height="1.4" fill="#fff"/>
<path d="M384.4,328.7 L387.7,325.6 L386.1,331.8 L389.6,328.9" stroke="#141414" stroke-width="1.0" fill="none"/>
<rect x="407.0" y="328.0" width="3.0" height="1.4" fill="#fff"/>
<path d="M405.9,328.7 L409.2,325.6 L407.6,331.8 L411.1,328.9" stroke="#141414" stroke-width="1.0" fill="none"/>
<line x1="470.8" y1="207.0" x2="470.8" y2="328.7" stroke="#aaa" stroke-width="1.0"/>
<line x1="475.3" y1="207.0" x2="475.3" y2="328.7" stroke="#888" stroke-width="1.0"/>
<line x1="519.8" y1="207.0" x2="519.8" y2="328.7" stroke="#999" stroke-width="1.0" stroke-dasharray="8,1.5,1,1.5"/>
<line x1="524.5" y1="207.0" x2="524.5" y2="328.7" stroke="#141414" stroke-width="1.0"/>
<path d="M485.0,207.0 L488.3,203.9 L486.7,210.1 L490.2,207.2" stroke="#141414" stroke-width="1.0" fill="none"/>
<path d="M505.9,207.0 L509.2,203.9 L507.6,210.1 L511.1,207.2" stroke="#141414" stroke-width="1.0" fill="none"/>
<path d="M490.1,217.6 H477.6 V273" stroke="#141414" stroke-width="0.9" fill="none"/>
<line x1="477.6" y1="217.6" x2="477.6" y2="220.0" stroke="#141414" stroke-width="0.9"/>
<line x1="479.2" y1="219.3" x2="479.2" y2="273.0" stroke="#141414" stroke-width="0.6" stroke-dasharray="3,1"/>
<path d="M475.0,275.2 H492.6 V277.7 H475.0 Z" stroke="#141414" stroke-width="0.9" fill="none"/>
<path d="M476.0,277.7 L491.0,277.7 L477.6,302.8 Z" stroke="#141414" stroke-width="0.9" fill="none"/>
<rect x="475.3" y="277.7" width="1.4" height="25.0" fill="#141414"/>
<path d="M476.5,278.0h1.2 M476.5,279.5h1.2 M476.5,281.0h1.2 M476.5,282.5h1.2 M476.5,284.0h1.2 M476.5,285.5h1.2 M476.5,287.0h1.2 M476.5,288.5h1.2 M476.5,290.0h1.2 M476.5,291.5h1.2 M476.5,293.0h1.2 M476.5,294.5h1.2 M476.5,296.0h1.2 M476.5,297.5h1.2 M476.5,299.0h1.2 M476.5,300.5h1.2 M476.5,302.0h1.2" stroke="#141414" stroke-width="1.0" fill="none"/>
<line x1="478.5" y1="281.0" x2="487.0" y2="289.0" stroke="#141414" stroke-width="0.6"/>
<line x1="478.5" y1="290.0" x2="487.0" y2="281.0" stroke="#141414" stroke-width="0.6"/>
<path d="M481.5,275.2 q2,-3.5 4.5,0" stroke="#141414" stroke-width="0.8" fill="none"/>
<text x="497.6" y="264.4" style="font-family:&quot;Liberation Sans&quot;,sans-serif;font-size:7.8px;font-weight:normal;letter-spacing:0px" text-anchor="start" fill="#000" stroke="#000" stroke-width="0.12" textLength="13.6" lengthAdjust="spacingAndGlyphs">F.W.</text>
<text x="495.0" y="291.1" style="font-family:&quot;Liberation Sans&quot;,sans-serif;font-size:7.8px;font-weight:normal;letter-spacing:0px" text-anchor="start" fill="#000" stroke="#000" stroke-width="0.12" textLength="14.8" lengthAdjust="spacingAndGlyphs">S.W.</text>
<line x1="497.5" y1="262.0" x2="491.5" y2="273.5" stroke="#141414" stroke-width="0.7"/>
<path d="M491.5,273.5L491.5,271.5L493.1,272.3Z" stroke="#141414" stroke-width="0.3" fill="#141414"/>
<line x1="463.4" y1="328.7" x2="533.6" y2="328.7" stroke="#141414" stroke-width="1.0"/>
<rect x="483.5" y="328.0" width="3.0" height="1.4" fill="#fff"/>
<path d="M482.4,328.7 L485.7,325.6 L484.1,331.8 L487.6,328.9" stroke="#141414" stroke-width="1.0" fill="none"/>
<rect x="507.0" y="328.0" width="3.0" height="1.4" fill="#fff"/>
<path d="M505.9,328.7 L509.2,325.6 L507.6,331.8 L511.1,328.9" stroke="#141414" stroke-width="1.0" fill="none"/>
<line x1="569.2" y1="207.0" x2="569.2" y2="300.0" stroke="#141414" stroke-width="1.0"/>
<line x1="569.2" y1="300.0" x2="569.2" y2="328.7" stroke="#999" stroke-width="1.0"/>
<line x1="573.3" y1="207.0" x2="573.3" y2="299.4" stroke="#141414" stroke-width="1.0"/>
<line x1="618.5" y1="207.0" x2="618.5" y2="328.7" stroke="#141414" stroke-width="1.0"/>
<line x1="622.6" y1="207.0" x2="622.6" y2="328.7" stroke="#141414" stroke-width="1.0"/>
<line x1="580.0" y1="206.4" x2="630.0" y2="206.4" stroke="#141414" stroke-width="0.7" stroke-dasharray="2.5,1.5"/>
<path d="M580.9,206.4 L584.2,203.3 L582.6,209.5 L586.1,206.6" stroke="#141414" stroke-width="1.0" fill="none"/>
<path d="M602.6,206.4 L605.9,203.3 L604.3,209.5 L607.8,206.6" stroke="#141414" stroke-width="1.0" fill="none"/>
<path d="M553.4,218.4 H570.1" stroke="#141414" stroke-width="0.9" fill="none"/>
<line x1="562.6" y1="219.0" x2="562.6" y2="273.0" stroke="#141414" stroke-width="1.0"/>
<line x1="564.2" y1="219.0" x2="564.2" y2="273.0" stroke="#141414" stroke-width="0.7"/>
<path d="M550.0,275.2 H573.5 V277.7 H550.0 Z" stroke="#141414" stroke-width="0.9" fill="none"/>
<path d="M551.0,277.7 L569.3,277.7 L566.8,300.3 Z" stroke="#141414" stroke-width="0.9" fill="none"/>
<path d="M568.6,278.0h-1.6 M568.6,279.5h-1.6 M568.6,281.0h-1.6 M568.6,282.5h-1.6 M568.6,284.0h-1.6 M568.6,285.5h-1.6 M568.6,287.0h-1.6 M568.6,288.5h-1.6 M568.6,290.0h-1.6 M568.6,291.5h-1.6 M568.6,293.0h-1.6 M568.6,294.5h-1.6 M568.6,296.0h-1.6 M568.6,297.5h-1.6 M568.6,299.0h-1.6" stroke="#141414" stroke-width="1.0" fill="none"/>
<path d="M555.0,275.2 q2,-3.5 4.5,0" stroke="#141414" stroke-width="0.8" fill="none"/>
<text x="535.0" y="267.7" style="font-family:&quot;Liberation Sans&quot;,sans-serif;font-size:7.8px;font-weight:normal;letter-spacing:0px" text-anchor="start" fill="#000" stroke="#000" stroke-width="0.12" textLength="13.6" lengthAdjust="spacingAndGlyphs">F.W.</text>
<text x="582.7" y="295.3" style="font-family:&quot;Liberation Sans&quot;,sans-serif;font-size:7.8px;font-weight:normal;letter-spacing:0px" text-anchor="start" fill="#000" stroke="#000" stroke-width="0.12" textLength="13.3" lengthAdjust="spacingAndGlyphs">S.W</text>
<line x1="546.0" y1="268.0" x2="549.8" y2="273.5" stroke="#141414" stroke-width="0.7"/>
<path d="M549.8,273.5L548.0,272.5L549.5,271.5Z" stroke="#141414" stroke-width="0.3" fill="#141414"/>
<line x1="553.0" y1="296.0" x2="555.5" y2="286.5" stroke="#141414" stroke-width="0.7"/>
<path d="M555.5,286.5L555.9,288.5L554.2,288.0Z" stroke="#141414" stroke-width="0.3" fill="#141414"/>
<line x1="572.0" y1="292.5" x2="581.5" y2="292.5" stroke="#141414" stroke-width="0.7"/>
<text x="531.0" y="304.5" style="font-family:&quot;Liberation Sans&quot;,sans-serif;font-size:7.8px;font-weight:normal;letter-spacing:0px" text-anchor="start" fill="#000" stroke="#000" stroke-width="0.12" textLength="19.2" lengthAdjust="spacingAndGlyphs">HALF</text>
<text x="531.0" y="312.2" style="font-family:&quot;Liberation Sans&quot;,sans-serif;font-size:7.8px;font-weight:normal;letter-spacing:0px" text-anchor="start" fill="#000" stroke="#000" stroke-width="0.12" textLength="30.0" lengthAdjust="spacingAndGlyphs">I-BEAM</text>
<text x="531.0" y="319.8" style="font-family:&quot;Liberation Sans&quot;,sans-serif;font-size:7.8px;font-weight:normal;letter-spacing:0px" text-anchor="start" fill="#000" stroke="#000" stroke-width="0.12" textLength="19.2" lengthAdjust="spacingAndGlyphs">SEAT</text>
<line x1="563.5" y1="328.7" x2="630.3" y2="328.7" stroke="#141414" stroke-width="1.0"/>
<rect x="579.5" y="328.0" width="3.0" height="1.4" fill="#fff"/>
<path d="M578.4,328.7 L581.7,325.6 L580.1,331.8 L583.6,328.9" stroke="#141414" stroke-width="1.0" fill="none"/>
<rect x="605.5" y="328.0" width="3.0" height="1.4" fill="#fff"/>
<path d="M604.4,328.7 L607.7,325.6 L606.1,331.8 L609.6,328.9" stroke="#141414" stroke-width="1.0" fill="none"/>
<line x1="520.0" y1="328.7" x2="533.4" y2="328.7" stroke="#141414" stroke-width="1.0"/>
<text x="192.0" y="349.5" style="font-family:&quot;Liberation Serif&quot;,serif;font-size:10px;font-weight:bold;letter-spacing:0px" text-anchor="start" fill="#000" stroke="#000" stroke-width="0.3" textLength="53.7" lengthAdjust="spacingAndGlyphs">FIGURE 1.8</text>
<text x="256.9" y="349.5" style="font-family:&quot;Liberation Serif&quot;,serif;font-size:10px;font-weight:normal;letter-spacing:0px" text-anchor="start" fill="#000" stroke="#000" stroke-width="0.3" textLength="305.6" lengthAdjust="spacingAndGlyphs">Different ways of connecting beams to columns when an offset is required.</text>
<path d="M234.3,404.4 V402.6 H332.6 V404.4" stroke="#141414" stroke-width="1.0" fill="none"/>
<text x="199.2" y="393.4" style="font-family:&quot;Liberation Sans&quot;,sans-serif;font-size:7.8px;font-weight:normal;letter-spacing:0px" text-anchor="start" fill="#000" stroke="#000" stroke-width="0.12" textLength="40.1" lengthAdjust="spacingAndGlyphs">TIE PLATE</text>
<line x1="242.0" y1="391.0" x2="251.0" y2="391.0" stroke="#141414" stroke-width="0.7" stroke-dasharray="2,1.2"/>
<path d="M251,391 Q254,393 257.2,401.2" stroke="#141414" stroke-width="0.7" fill="none"/>
<line x1="255.5" y1="397.0" x2="257.5" y2="401.6" stroke="#141414" stroke-width="0.6"/>
<path d="M257.5,401.6L256.0,400.3L257.6,399.6Z" stroke="#141414" stroke-width="0.3" fill="#141414"/>
<path d="M186.7,404.4 H267.1 M186.7,406.3 H267.1" stroke="#141414" stroke-width="1.0" fill="none"/>
<line x1="186.7" y1="404.4" x2="186.7" y2="406.3" stroke="#141414" stroke-width="1.0"/>
<line x1="186.7" y1="407.0" x2="186.7" y2="450.2" stroke="#141414" stroke-width="0.8" stroke-dasharray="3,1.5"/>
<path d="M186.7,450.2 H280.0 M186.7,452.2 H280.5" stroke="#141414" stroke-width="1.0" fill="none"/>
<line x1="280.5" y1="407.5" x2="280.5" y2="450.2" stroke="#141414" stroke-width="0.9"/>
<path d="M267.1,405.6 H300.4 M267.1,405.6 V406.5 Q267.1,408.5 269.5,408.5 H280.3 V450.4 M300.4,405.6 V406.5 Q300.4,408.5 298,408.5 H287.2 V450.4" stroke="#141414" stroke-width="1.0" fill="none"/>
<line x1="282.7" y1="452.5" x2="282.7" y2="481.8" stroke="#141414" stroke-width="1.1"/>
<line x1="285.6" y1="452.5" x2="285.6" y2="481.8" stroke="#141414" stroke-width="0.9" stroke-dasharray="4,1.5"/>
<path d="M282.7,481.8 Q282.5,482.1 271.5,482.1 L269.8,484.8 H297.8 L296.5,482.1 Q285.8,482.1 285.6,481.8" stroke="#141414" stroke-width="1.0" fill="none"/>
<rect x="269.6" y="484.0" width="1.6" height="1.4" fill="#141414"/>
<rect x="296.6" y="484.0" width="1.6" height="1.4" fill="#141414"/>
<line x1="284.0" y1="410.0" x2="284.0" y2="450.0" stroke="#141414" stroke-width="0.8" stroke-dasharray="3,2"/>
<path d="M269.8,452.8 L281.9,466.8 M297.2,452.8 L285.6,466.8 M269.8,452.8 H282.4 M285.8,452.8 H297.2" stroke="#141414" stroke-width="1.0" fill="none"/>
<rect x="280.0" y="449.0" width="2.6" height="3.6" fill="#141414"/>
<rect x="285.0" y="449.0" width="2.8" height="4.0" fill="#141414"/>
<path d="M300.4,404.4 H394.5 M300.4,406.3 H394.5" stroke="#141414" stroke-width="1.0" fill="none"/>
<line x1="394.5" y1="407.0" x2="394.5" y2="451.0" stroke="#141414" stroke-width="0.8" stroke-dasharray="3,1.5"/>
<path d="M287.0,450.2 H394.5 M287.0,452.2 H394.5" stroke="#141414" stroke-width="1.0" fill="none"/>
<line x1="288.0" y1="408.0" x2="288.0" y2="450.0" stroke="#141414" stroke-width="0.6"/>
<text x="326.8" y="431.8" style="font-family:&quot;Liberation Sans&quot;,sans-serif;font-size:7.8px;font-weight:normal;letter-spacing:0px" text-anchor="start" fill="#000" stroke="#000" stroke-width="0.12" textLength="22.6" lengthAdjust="spacingAndGlyphs">BEAM</text>
<text x="317.6" y="466.9" style="font-family:&quot;Liberation Sans&quot;,sans-serif;font-size:7.8px;font-weight:normal;letter-spacing:0px" text-anchor="start" fill="#000" stroke="#000" stroke-width="0.12" textLength="47.6" lengthAdjust="spacingAndGlyphs">BUTT WELD</text>
<path d="M309.5,462.5 L298.5,442" stroke="#141414" stroke-width="0.7" fill="none" stroke-dasharray="1.5,1"/>
<line x1="298.5" y1="442.0" x2="287.8" y2="451.5" stroke="#141414" stroke-width="0.7"/>
<path d="M287.8,451.5L288.6,449.4L290.0,450.9Z" stroke="#141414" stroke-width="0.3" fill="#141414"/>
<text x="216.0" y="478.6" style="font-family:&quot;Liberation Sans&quot;,sans-serif;font-size:7.8px;font-weight:normal;letter-spacing:0px" text-anchor="start" fill="#000" stroke="#000" stroke-width="0.12" textLength="28.3" lengthAdjust="spacingAndGlyphs">GIRDER</text>
<line x1="247.7" y1="475.8" x2="278.6" y2="475.8" stroke="#141414" stroke-width="0.8"/>
<path d="M278.6,475.8L276.2,477.0L276.2,474.6Z" stroke="#141414" stroke-width="0.3" fill="#141414"/>
<line x1="186.7" y1="513.3" x2="264.4" y2="513.3" stroke="#141414" stroke-width="1.0"/>
<rect x="211.9" y="512.6" width="3.0" height="1.4" fill="#fff"/>
<path d="M210.8,513.3 L214.1,510.2 L212.5,516.4 L216.0,513.5" stroke="#141414" stroke-width="1.0" fill="none"/>
<line x1="190.4" y1="513.3" x2="190.4" y2="657.5" stroke="#141414" stroke-width="1.0"/>
<line x1="192.0" y1="513.3" x2="192.0" y2="545.0" stroke="#141414" stroke-width="0.8" stroke-dasharray="10,2"/>
<line x1="257.2" y1="514.5" x2="257.2" y2="657.5" stroke="#141414" stroke-width="1.0"/>
<line x1="259.4" y1="514.5" x2="259.4" y2="657.5" stroke="#141414" stroke-width="1.0"/>
<text x="212.6" y="556.0" style="font-family:&quot;Liberation Sans&quot;,sans-serif;font-size:7.8px;font-weight:normal;letter-spacing:0px" text-anchor="start" fill="#000" stroke="#000" stroke-width="0.12" textLength="25.1" lengthAdjust="spacingAndGlyphs">UPPER</text>
<text x="210.0" y="565.2" style="font-family:&quot;Liberation Sans&quot;,sans-serif;font-size:7.8px;font-weight:normal;letter-spacing:0px" text-anchor="start" fill="#000" stroke="#000" stroke-width="0.12" textLength="30.2" lengthAdjust="spacingAndGlyphs">COLUMN</text>
<text x="207.6" y="574.4" style="font-family:&quot;Liberation Sans&quot;,sans-serif;font-size:7.8px;font-weight:normal;letter-spacing:0px" text-anchor="start" fill="#000" stroke="#000" stroke-width="0.12" textLength="32.6" lengthAdjust="spacingAndGlyphs">SECTION</text>
<path d="M261.7,564.2 H310.5" stroke="#141414" stroke-width="1.0" fill="none"/>
<path d="M265.1,577.4 V568 Q265.1,566.4 267,566.4 H305.5 Q307.2,566.4 307.2,568 V577.4" stroke="#141414" stroke-width="1.0" fill="none"/>
<line x1="261.7" y1="559.5" x2="261.7" y2="580.7" stroke="#141414" stroke-width="1.0"/>
<path d="M259.8,559.5 Q264.5,560 264.5,564.2 L259.8,564.2 Z M259.8,580.7 Q264.5,580 264.5,576 L259.8,576 Z" stroke="#141414" stroke-width="0.6" fill="#111"/>
<line x1="284.5" y1="571.5" x2="284.5" y2="567.0" stroke="#141414" stroke-width="0.7"/>
<path d="M284.5,567.0L285.4,568.6L283.6,568.6Z" stroke="#141414" stroke-width="0.3" fill="#141414"/>
<line x1="284.5" y1="571.0" x2="284.5" y2="577.5" stroke="#141414" stroke-width="0.8"/>
<text x="265.2" y="589.4" style="font-family:&quot;Liberation Sans&quot;,sans-serif;font-size:7.8px;font-weight:normal;letter-spacing:0px" text-anchor="start" fill="#000" stroke="#000" stroke-width="0.12" textLength="26.8" lengthAdjust="spacingAndGlyphs">GIRDER</text>
<text x="265.2" y="597.8" style="font-family:&quot;Liberation Sans&quot;,sans-serif;font-size:7.8px;font-weight:normal;letter-spacing:0px" text-anchor="start" fill="#000" stroke="#000" stroke-width="0.12" textLength="40" lengthAdjust="spacingAndGlyphs">STIFFENER</text>
<line x1="310.5" y1="558.2" x2="310.5" y2="654.2" stroke="#141414" stroke-width="1.0"/>
<line x1="312.4" y1="558.2" x2="312.4" y2="654.2" stroke="#141414" stroke-width="1.0"/>
<rect x="307.1" y="534.5" width="8.6" height="3.9" rx="1.0" stroke="#141414" stroke-width="1.0" fill="none"/>
<line x1="310.4" y1="538.4" x2="310.4" y2="553.4" stroke="#141414" stroke-width="0.9"/>
<line x1="312.4" y1="538.4" x2="312.4" y2="553.4" stroke="#141414" stroke-width="0.9"/>
<ellipse cx="308.6" cy="545.5" rx="1.1" ry="2.9" fill="#141414"/><ellipse cx="314.3" cy="545.5" rx="1.1" ry="2.9" fill="#141414"/>
<path d="M294.2,553.9 H328.3" stroke="#141414" stroke-width="0.9" fill="none" stroke-dasharray="2.5,1"/>
<path d="M294.2,558.2 H328.6" stroke="#141414" stroke-width="1.0" fill="none"/>
<path d="M293.8,558.2 Q293,555.5 296,554.3 M328.8,558.2 Q329.6,555.5 326.6,554.3" stroke="#141414" stroke-width="0.8" fill="none"/>
<path d="M307.8,543.8 L292.2,553.2 Q290.2,555.5 292.3,559.5 Q293.5,561.5 295,560.3" stroke="#141414" stroke-width="1.0" fill="none"/>
<path d="M308.2,546.4 L294.4,554.8 Q293.4,556.5 294.2,558.3" stroke="#141414" stroke-width="0.9" fill="none"/>
<path d="M315.0,543.8 L330.6,553.2 Q332.6,555.5 330.5,559.5 Q329.3,561.5 327.8,560.3" stroke="#141414" stroke-width="1.0" fill="none"/>
<path d="M314.6,546.4 L328.4,554.8 Q329.4,556.5 328.6,558.3" stroke="#141414" stroke-width="0.9" fill="none"/>
<text x="340.2" y="541.0" style="font-family:&quot;Liberation Sans&quot;,sans-serif;font-size:7.8px;font-weight:normal;letter-spacing:0px" text-anchor="start" fill="#000" stroke="#000" stroke-width="0.12" textLength="49.3" lengthAdjust="spacingAndGlyphs">HOOK BOLTS</text>
<line x1="331.0" y1="537.6" x2="337.5" y2="537.6" stroke="#141414" stroke-width="0.8"/>
<path d="M331,537.6 L325.5,547.5" stroke="#141414" stroke-width="0.8" fill="none"/>
<line x1="326.5" y1="545.5" x2="324.2" y2="549.0" stroke="#141414" stroke-width="0.8"/>
<path d="M324.2,549.0L324.5,546.6L326.3,547.8Z" stroke="#141414" stroke-width="0.3" fill="#141414"/>
<text x="333.5" y="580.2" style="font-family:&quot;Liberation Sans&quot;,sans-serif;font-size:7.8px;font-weight:normal;letter-spacing:0px" text-anchor="start" fill="#000" stroke="#000" stroke-width="0.12" textLength="25.1" lengthAdjust="spacingAndGlyphs">CRANE</text>
<text x="333.5" y="587.7" style="font-family:&quot;Liberation Sans&quot;,sans-serif;font-size:7.8px;font-weight:normal;letter-spacing:0px" text-anchor="start" fill="#000" stroke="#000" stroke-width="0.12" textLength="28.4" lengthAdjust="spacingAndGlyphs">GIRDER</text>
<line x1="326.5" y1="577.3" x2="331.5" y2="577.3" stroke="#141414" stroke-width="0.8"/>
<line x1="326.5" y1="577.3" x2="313.5" y2="586.5" stroke="#141414" stroke-width="0.7"/>
<path d="M313.5,586.5L314.6,584.5L315.7,586.2Z" stroke="#141414" stroke-width="0.3" fill="#141414"/>
<text x="315.1" y="632.9" style="font-family:&quot;Liberation Sans&quot;,sans-serif;font-size:7.8px;font-weight:normal;letter-spacing:0px" text-anchor="start" fill="#000" stroke="#000" stroke-width="0.12" textLength="78.6" lengthAdjust="spacingAndGlyphs">CONNECTION PLATE,</text>
<text x="315.1" y="641.2" style="font-family:&quot;Liberation Sans&quot;,sans-serif;font-size:7.8px;font-weight:normal;letter-spacing:0px" text-anchor="start" fill="#000" stroke="#000" stroke-width="0.12" textLength="68.0" lengthAdjust="spacingAndGlyphs">SHOP-WELDED TO</text>
<text x="315.1" y="649.6" style="font-family:&quot;Liberation Sans&quot;,sans-serif;font-size:7.8px;font-weight:normal;letter-spacing:0px" text-anchor="start" fill="#000" stroke="#000" stroke-width="0.12" textLength="70.0" lengthAdjust="spacingAndGlyphs">GIRDER, NO HOLES</text>
<text x="346.0" y="658.4" style="font-family:&quot;Liberation Sans&quot;,sans-serif;font-size:7.8px;font-weight:normal;letter-spacing:0px" text-anchor="start" fill="#000" stroke="#000" stroke-width="0.12" textLength="40.1" lengthAdjust="spacingAndGlyphs">IN GIRDER</text>
<text x="346.0" y="666.8" style="font-family:&quot;Liberation Sans&quot;,sans-serif;font-size:7.8px;font-weight:normal;letter-spacing:0px" text-anchor="start" fill="#000" stroke="#000" stroke-width="0.12" textLength="27.6" lengthAdjust="spacingAndGlyphs">ITSELF</text>
<text x="206.7" y="638.7" style="font-family:&quot;Liberation Sans&quot;,sans-serif;font-size:7.8px;font-weight:normal;letter-spacing:0px" text-anchor="start" fill="#000" stroke="#000" stroke-width="0.12" textLength="26.8" lengthAdjust="spacingAndGlyphs">PLATE</text>
<path d="M234.8,636.3 H240 Q242,637 242.5,648 L243,656" stroke="#141414" stroke-width="0.7" fill="none"/>
<line x1="242.5" y1="650.0" x2="243.0" y2="656.5" stroke="#141414" stroke-width="0.6"/>
<path d="M243.0,656.5L242.0,654.8L243.8,654.6Z" stroke="#141414" stroke-width="0.3" fill="#141414"/>
<path d="M185.5,658.3 H341.9 V662.3 H185.5 Z" stroke="#141414" stroke-width="1.0" fill="none"/>
<ellipse cx="185.6" cy="660.3" rx="1.4" ry="2.6" fill="#141414"/>
<path d="M279.7,658.3 L281.5,655.2 H341.9 V658.3" stroke="#141414" stroke-width="1.0" fill="none"/>
<path d="M284.4,655.2 L286,652.5 H310.5 M312.6,652.5 H336.5 L338.5,655.2" stroke="#141414" stroke-width="1.0" fill="none"/>
<path d="M193.0,655.5v2.4 M194.5,655.5v2.4 M196.0,655.5v2.4 M197.5,655.5v2.4 M199.0,655.5v2.4 M200.5,655.5v2.4 M202.0,655.5v2.4 M203.5,655.5v2.4 M205.0,655.5v2.4 M206.5,655.5v2.4 M208.0,655.5v2.4 M209.5,655.5v2.4 M211.0,655.5v2.4 M212.5,655.5v2.4 M214.0,655.5v2.4 M215.5,655.5v2.4 M217.0,655.5v2.4 M218.5,655.5v2.4 M220.0,655.5v2.4 M221.5,655.5v2.4 M223.0,655.5v2.4 M224.5,655.5v2.4 M226.0,655.5v2.4 M227.5,655.5v2.4 M229.0,655.5v2.4 M230.5,655.5v2.4 M232.0,655.5v2.4 M233.5,655.5v2.4 M235.0,655.5v2.4 M236.5,655.5v2.4 M238.0,655.5v2.4 M239.5,655.5v2.4 M241.0,655.5v2.4 M242.5,655.5v2.4 M244.0,655.5v2.4 M245.5,655.5v2.4 M247.0,655.5v2.4 M248.5,655.5v2.4 M250.0,655.5v2.4 M251.5,655.5v2.4 M253.0,655.5v2.4 M254.5,655.5v2.4 M256.0,655.5v2.4" stroke="#141414" stroke-width="1.0" fill="none"/>
<path d="M193.0,662.3v2.6 M194.5,662.3v2.6 M196.0,662.3v2.6 M197.5,662.3v2.6 M199.0,662.3v2.6 M200.5,662.3v2.6 M202.0,662.3v2.6 M203.5,662.3v2.6 M205.0,662.3v2.6 M206.5,662.3v2.6 M208.0,662.3v2.6 M209.5,662.3v2.6 M211.0,662.3v2.6 M212.5,662.3v2.6 M214.0,662.3v2.6 M215.5,662.3v2.6 M217.0,662.3v2.6 M218.5,662.3v2.6 M220.0,662.3v2.6 M221.5,662.3v2.6 M223.0,662.3v2.6 M224.5,662.3v2.6 M226.0,662.3v2.6 M227.5,662.3v2.6 M229.0,662.3v2.6 M230.5,662.3v2.6 M232.0,662.3v2.6 M233.5,662.3v2.6 M235.0,662.3v2.6 M236.5,662.3v2.6 M238.0,662.3v2.6 M239.5,662.3v2.6 M241.0,662.3v2.6 M242.5,662.3v2.6 M244.0,662.3v2.6 M245.5,662.3v2.6 M247.0,662.3v2.6 M248.5,662.3v2.6 M250.0,662.3v2.6 M251.5,662.3v2.6 M253.0,662.3v2.6 M254.5,662.3v2.6 M256.0,662.3v2.6" stroke="#141414" stroke-width="1.0" fill="none"/>
<path d="M262.0,662.3v1.8 M263.6,662.3v1.8 M265.2,662.3v1.8 M266.8,662.3v1.8 M268.4,662.3v1.8 M270.0,662.3v1.8 M271.6,662.3v1.8 M273.2,662.3v1.8 M274.8,662.3v1.8 M276.4,662.3v1.8 M278.0,662.3v1.8 M279.6,662.3v1.8 M281.2,662.3v1.8 M282.8,662.3v1.8 M284.4,662.3v1.8 M286.0,662.3v1.8 M287.6,662.3v1.8 M289.2,662.3v1.8 M290.8,662.3v1.8 M292.4,662.3v1.8 M294.0,662.3v1.8 M295.6,662.3v1.8 M297.2,662.3v1.8 M298.8,662.3v1.8 M300.4,662.3v1.8 M302.0,662.3v1.8 M303.6,662.3v1.8 M305.2,662.3v1.8 M306.8,662.3v1.8 M308.4,662.3v1.8 M310.0,662.3v1.8 M311.6,662.3v1.8 M313.2,662.3v1.8 M314.8,662.3v1.8 M316.4,662.3v1.8 M318.0,662.3v1.8 M319.6,662.3v1.8 M321.2,662.3v1.8 M322.8,662.3v1.8 M324.4,662.3v1.8 M326.0,662.3v1.8 M327.6,662.3v1.8 M329.2,662.3v1.8 M330.8,662.3v1.8 M332.4,662.3v1.8 M334.0,662.3v1.8 M335.6,662.3v1.8 M337.2,662.3v1.8 M338.8,662.3v1.8 M340.4,662.3v1.8" stroke="#141414" stroke-width="1.0" fill="none"/>
<path d="M262.0,656.3v-1.6 M263.8,656.3v-1.6 M265.6,656.3v-1.6 M267.4,656.3v-1.6 M269.2,656.3v-1.6 M271.0,656.3v-1.6 M272.8,656.3v-1.6 M274.6,656.3v-1.6 M276.4,656.3v-1.6 M278.2,656.3v-1.6" stroke="#141414" stroke-width="1.0" fill="none"/>
<circle cx="187.2" cy="656.8" r="1.7" fill="#141414"/>
<circle cx="187.2" cy="663.6" r="1.7" fill="#141414"/>
<circle cx="191.5" cy="656.8" r="1.7" fill="#141414"/>
<circle cx="191.5" cy="663.6" r="1.7" fill="#141414"/>
<circle cx="256.5" cy="656.8" r="1.7" fill="#141414"/>
<circle cx="256.5" cy="663.6" r="1.7" fill="#141414"/>
<circle cx="260.2" cy="656.8" r="1.7" fill="#141414"/>
<circle cx="260.2" cy="663.6" r="1.7" fill="#141414"/>
<path d="M284.90000000000003,652.5 q0,-2 2.4,-2 q2.4,0 2.4,2 M284.90000000000003,662.6 v1.6 q0,2.4 2.4,2.4 q2.4,0 2.4,-2.4 v-1.6 M287.3,649.5 V668" stroke="#141414" stroke-width="1.0" fill="none"/>
<line x1="286.1" y1="650.2" x2="288.5" y2="650.2" stroke="#141414" stroke-width="1.0"/>
<path d="M332.90000000000003,652.5 q0,-2 2.4,-2 q2.4,0 2.4,2 M332.90000000000003,662.6 v1.6 q0,2.4 2.4,2.4 q2.4,0 2.4,-2.4 v-1.6 M335.3,649.5 V668" stroke="#141414" stroke-width="1.0" fill="none"/>
<line x1="334.1" y1="650.2" x2="336.5" y2="650.2" stroke="#141414" stroke-width="1.0"/>
<line x1="187.7" y1="663.0" x2="187.7" y2="781.8" stroke="#141414" stroke-width="1.0"/>
<line x1="192.9" y1="663.0" x2="192.9" y2="781.8" stroke="#141414" stroke-width="1.0"/>
<line x1="308.3" y1="663.0" x2="308.3" y2="781.8" stroke="#555" stroke-width="1.0"/>
<line x1="312.3" y1="663.0" x2="312.3" y2="781.8" stroke="#141414" stroke-width="1.0"/>
<line x1="256.9" y1="663.4" x2="256.9" y2="726.0" stroke="#141414" stroke-width="1.0"/>
<line x1="258.5" y1="663.4" x2="258.5" y2="726.0" stroke="#141414" stroke-width="1.0"/>
<line x1="256.9" y1="726.0" x2="258.5" y2="726.0" stroke="#141414" stroke-width="1.0"/>
<path d="M256.4,664.0h-1.6 M256.4,665.5h-1.6 M256.4,667.0h-1.6 M256.4,668.5h-1.6 M256.4,670.0h-1.6 M256.4,671.5h-1.6 M256.4,673.0h-1.6 M256.4,674.5h-1.6 M256.4,676.0h-1.6 M256.4,677.5h-1.6 M256.4,679.0h-1.6 M256.4,680.5h-1.6" stroke="#141414" stroke-width="1.0" fill="none"/>
<path d="M259.0,664.0h1.8 M259.0,665.5h1.8 M259.0,667.0h1.8 M259.0,668.5h1.8 M259.0,670.0h1.8 M259.0,671.5h1.8 M259.0,673.0h1.8 M259.0,674.5h1.8 M259.0,676.0h1.8 M259.0,677.5h1.8 M259.0,679.0h1.8 M259.0,680.5h1.8" stroke="#141414" stroke-width="1.0" fill="none"/>
<path d="M256.4,688.5h-1.6 M256.4,690.0h-1.6 M256.4,691.5h-1.6 M256.4,693.0h-1.6 M256.4,694.5h-1.6 M256.4,696.0h-1.6 M256.4,697.5h-1.6 M256.4,699.0h-1.6 M256.4,700.5h-1.6" stroke="#141414" stroke-width="1.0" fill="none"/>
<path d="M259.0,688.5h1.8 M259.0,690.0h1.8 M259.0,691.5h1.8 M259.0,693.0h1.8 M259.0,694.5h1.8 M259.0,696.0h1.8 M259.0,697.5h1.8 M259.0,699.0h1.8 M259.0,700.5h1.8" stroke="#141414" stroke-width="1.0" fill="none"/>
<path d="M256.4,708.5h-1.6 M256.4,710.0h-1.6 M256.4,711.5h-1.6 M256.4,713.0h-1.6 M256.4,714.5h-1.6 M256.4,716.0h-1.6 M256.4,717.5h-1.6 M256.4,719.0h-1.6 M256.4,720.5h-1.6 M256.4,722.0h-1.6 M256.4,723.5h-1.6 M256.4,725.0h-1.6" stroke="#141414" stroke-width="1.0" fill="none"/>
<path d="M259.0,708.5h1.8 M259.0,710.0h1.8 M259.0,711.5h1.8 M259.0,713.0h1.8 M259.0,714.5h1.8 M259.0,716.0h1.8 M259.0,717.5h1.8 M259.0,719.0h1.8 M259.0,720.5h1.8 M259.0,722.0h1.8 M259.0,723.5h1.8 M259.0,725.0h1.8" stroke="#141414" stroke-width="1.0" fill="none"/>
<path d="M313.4,663.4 H341.0 L313.6,727.5" stroke="#141414" stroke-width="0.9" fill="none"/>
<path d="M313.6,664.0h2.0 M313.6,665.5h2.0 M313.6,667.0h2.0 M313.6,668.5h2.0 M313.6,670.0h2.0 M313.6,671.5h2.0 M313.6,673.0h2.0 M313.6,674.5h2.0 M313.6,676.0h2.0 M313.6,677.5h2.0 M313.6,679.0h2.0 M313.6,680.5h2.0 M313.6,682.0h2.0 M313.6,683.5h2.0 M313.6,685.0h2.0 M313.6,686.5h2.0 M313.6,688.0h2.0 M313.6,689.5h2.0 M313.6,691.0h2.0 M313.6,692.5h2.0 M313.6,694.0h2.0 M313.6,695.5h2.0 M313.6,697.0h2.0 M313.6,698.5h2.0 M313.6,700.0h2.0 M313.6,701.5h2.0 M313.6,703.0h2.0 M313.6,704.5h2.0 M313.6,706.0h2.0 M313.6,707.5h2.0 M313.6,709.0h2.0 M313.6,710.5h2.0 M313.6,712.0h2.0 M313.6,713.5h2.0 M313.6,715.0h2.0 M313.6,716.5h2.0 M313.6,718.0h2.0 M313.6,719.5h2.0 M313.6,721.0h2.0 M313.6,722.5h2.0 M313.6,724.0h2.0" stroke="#141414" stroke-width="1.0" fill="none"/>
<text x="345.2" y="707.7" style="font-family:&quot;Liberation Sans&quot;,sans-serif;font-size:7.8px;font-weight:normal;letter-spacing:0px" text-anchor="start" fill="#000" stroke="#000" stroke-width="0.12" textLength="42.6" lengthAdjust="spacingAndGlyphs">STIFFENER</text>
<line x1="333.0" y1="705.2" x2="343.0" y2="705.2" stroke="#141414" stroke-width="0.8" stroke-dasharray="4,1"/>
<line x1="333.0" y1="705.2" x2="324.5" y2="705.2" stroke="#141414" stroke-width="0.7"/>
<path d="M324.5,705.2L326.5,704.2L326.5,706.2Z" stroke="#141414" stroke-width="0.3" fill="#141414"/>
<text x="201.7" y="705.2" style="font-family:&quot;Liberation Sans&quot;,sans-serif;font-size:7.8px;font-weight:normal;letter-spacing:0px" text-anchor="start" fill="#000" stroke="#000" stroke-width="0.12" textLength="33.5" lengthAdjust="spacingAndGlyphs">BRACING</text>
<text x="201.7" y="713.6" style="font-family:&quot;Liberation Sans&quot;,sans-serif;font-size:7.8px;font-weight:normal;letter-spacing:0px" text-anchor="start" fill="#000" stroke="#000" stroke-width="0.12" textLength="37.6" lengthAdjust="spacingAndGlyphs">ROD SLOT</text>
<line x1="241.3" y1="711.0" x2="247.5" y2="711.0" stroke="#141414" stroke-width="0.7"/>
<path d="M247.5,711 L248.6,726" stroke="#141414" stroke-width="0.7" fill="none" stroke-dasharray="1.5,1"/>
<line x1="248.5" y1="723.0" x2="248.7" y2="727.5" stroke="#141414" stroke-width="0.6"/>
<path d="M248.7,727.5L247.7,725.7L249.5,725.7Z" stroke="#141414" stroke-width="0.3" fill="#141414"/>
<rect x="246.9" y="730.0" width="5.8" height="14.5" rx="2.9" stroke="#141414" stroke-width="0.8" fill="none"/>
<line x1="300.0" y1="752.8" x2="281.5" y2="752.8" stroke="#141414" stroke-width="0.7"/>
<path d="M281.5,752.8L283.7,751.7L283.7,753.9Z" stroke="#141414" stroke-width="0.3" fill="#141414"/>
<line x1="291.0" y1="752.8" x2="300.0" y2="752.8" stroke="#141414" stroke-width="0.7" stroke-dasharray="3,1.5"/>
<line x1="301.5" y1="753.2" x2="326.0" y2="753.2" stroke="#999" stroke-width="0.5" stroke-dasharray="3,2"/>
<text x="328.5" y="756.2" style="font-family:&quot;Liberation Sans&quot;,sans-serif;font-size:7.8px;font-weight:normal;letter-spacing:0px" text-anchor="start" fill="#000" stroke="#000" stroke-width="0.12" textLength="46.8" lengthAdjust="spacingAndGlyphs">LOWER COL.</text>
<text x="328.5" y="764.5" style="font-family:&quot;Liberation Sans&quot;,sans-serif;font-size:7.8px;font-weight:normal;letter-spacing:0px" text-anchor="start" fill="#000" stroke="#000" stroke-width="0.12" textLength="32.6" lengthAdjust="spacingAndGlyphs">SECTION</text>
<line x1="183.1" y1="781.3" x2="209.5" y2="781.3" stroke="#141414" stroke-width="1.0"/>
<path d="M209.9,781.3 L213.2,778.2 L211.6,784.4 L215.1,781.5" stroke="#141414" stroke-width="1.0" fill="none"/>
<line x1="216.5" y1="781.3" x2="267.5" y2="781.3" stroke="#aaa" stroke-width="0.9"/>
<path d="M269.4,781.3 L272.7,778.2 L271.1,784.4 L274.6,781.5" stroke="#141414" stroke-width="1.0" fill="none"/>
<line x1="287.5" y1="781.3" x2="291.5" y2="781.3" stroke="#777" stroke-width="0.8" stroke-dasharray="1,1.5"/>
<line x1="298.0" y1="781.3" x2="323.0" y2="781.3" stroke="#141414" stroke-width="1.0"/>
<text x="183.4" y="803.4" style="font-family:&quot;Liberation Serif&quot;,serif;font-size:10px;font-weight:bold;letter-spacing:0px" text-anchor="start" fill="#000" stroke="#000" stroke-width="0.3" textLength="54.5" lengthAdjust="spacingAndGlyphs">FIGURE 1.9</text>
<text x="248.6" y="803.4" style="font-family:&quot;Liberation Serif&quot;,serif;font-size:10px;font-weight:normal;letter-spacing:0px" text-anchor="start" fill="#000" stroke="#000" stroke-width="0.3" textLength="147.1" lengthAdjust="spacingAndGlyphs">A beam-and-girder connection and a</text>
<text x="183.4" y="815.1" style="font-family:&quot;Liberation Serif&quot;,serif;font-size:10px;font-weight:normal;letter-spacing:0px" text-anchor="start" fill="#000" stroke="#000" stroke-width="0.3" textLength="134.6" lengthAdjust="spacingAndGlyphs">column detail showing craneway.</text>
<g shape-rendering="auto">
<defs><clipPath id="base"><path d="M428.8,757.2 H481.8 C490,757.5 496,764 503,770 C509,775.5 512,778.9 516.3,778.9 C525,780.5 535,780.5 547.7,777.6 C551,775 553,771 556,770.3 H637.4 V798 H428.8 Z"/></clipPath><clipPath id="slag"><path d="M428.8,751.6 H481.5 C491,752 497,760 504,767.6 L503,770 C496,764 490,757.5 481.8,757.2 H428.8 Z"/></clipPath><clipPath id="core"><path d="M515.8,675.2 H534.2 V731.5 H515.8 Z"/></clipPath></defs>
<g clip-path="url(#base)">
<path d="M352.0,800 L404.0,748 M358.4,800 L410.4,748 M364.8,800 L416.8,748 M371.2,800 L423.2,748 M377.6,800 L429.6,748 M384.0,800 L436.0,748 M390.4,800 L442.4,748 M396.8,800 L448.8,748 M403.2,800 L455.2,748 M409.6,800 L461.6,748 M416.0,800 L468.0,748 M422.4,800 L474.4,748 M428.8,800 L480.8,748 M435.2,800 L487.2,748 M441.6,800 L493.6,748 M448.0,800 L500.0,748 M454.4,800 L506.4,748 M460.8,800 L512.8,748 M467.2,800 L519.2,748 M473.6,800 L525.6,748 M480.0,800 L532.0,748 M486.4,800 L538.4,748 M492.8,800 L544.8,748 M499.2,800 L551.2,748 M505.6,800 L557.6,748 M512.0,800 L564.0,748 M518.4,800 L570.4,748 M524.8,800 L576.8,748 M531.2,800 L583.2,748 M537.6,800 L589.6,748 M544.0,800 L596.0,748 M550.4,800 L602.4,748 M556.8,800 L608.8,748 M563.2,800 L615.2,748 M569.6,800 L621.6,748 M576.0,800 L628.0,748 M582.4,800 L634.4,748 M588.8,800 L640.8,748 M595.2,800 L647.2,748 M601.6,800 L653.6,748 M608.0,800 L660.0,748 M614.4,800 L666.4,748 M620.8,800 L672.8,748 M627.2,800 L679.2,748 M633.6,800 L685.6,748 M640.0,800 L692.0,748 M646.4,800 L698.4,748 M652.8,800 L704.8,748 M659.2,800 L711.2,748 M665.6,800 L717.6,748 M672.0,800 L724.0,748 M678.4,800 L730.4,748" stroke="#141414" stroke-width="0.9" fill="none"/>
</g>
<g clip-path="url(#slag)">
<path d="M419.3,750 L427.3,758 M421.2,750 L429.2,758 M423.1,750 L431.1,758 M425.0,750 L433.0,758 M426.9,750 L434.9,758 M428.8,750 L436.8,758 M430.7,750 L438.7,758 M432.6,750 L440.6,758 M434.5,750 L442.5,758 M436.4,750 L444.4,758 M438.3,750 L446.3,758 M440.2,750 L448.2,758 M442.1,750 L450.1,758 M444.0,750 L452.0,758 M445.9,750 L453.9,758 M447.8,750 L455.8,758 M449.7,750 L457.7,758 M451.6,750 L459.6,758 M453.5,750 L461.5,758 M455.4,750 L463.4,758 M457.3,750 L465.3,758 M459.2,750 L467.2,758 M461.1,750 L469.1,758 M463.0,750 L471.0,758 M464.9,750 L472.9,758 M466.8,750 L474.8,758 M468.7,750 L476.7,758 M470.6,750 L478.6,758 M472.5,750 L480.5,758 M474.4,750 L482.4,758 M476.3,750 L484.3,758 M478.2,750 L486.2,758 M480.1,750 L488.1,758 M482.0,750 L490.0,758 M483.9,750 L491.9,758 M485.8,750 L493.8,758 M487.7,750 L495.7,758 M489.6,750 L497.6,758 M491.5,750 L499.5,758 M493.4,750 L501.4,758 M495.3,750 L503.3,758 M497.2,750 L505.2,758 M499.1,750 L507.1,758 M501.0,750 L509.0,758 M502.9,750 L510.9,758 M504.8,750 L512.8,758 M506.7,750 L514.7,758 M508.6,750 L516.6,758 M510.5,750 L518.5,758 M512.4,750 L520.4,758 M514.3,750 L522.3,758 M516.2,750 L524.2,758 M518.1,750 L526.1,758 M520.0,750 L528.0,758 M521.9,750 L529.9,758 M523.8,750 L531.8,758 M525.7,750 L533.7,758 M527.6,750 L535.6,758 M529.5,750 L537.5,758 M531.4,750 L539.4,758 M533.3,750 L541.3,758 M535.2,750 L543.2,758 M537.1,750 L545.1,758 M539.0,750 L547.0,758 M540.9,750 L548.9,758" stroke="#141414" stroke-width="0.7" fill="none"/>
</g>
<path d="M428.6,798.3 V752.2 Q428.6,751.4 430,751.4 H481.5 C491,752 497,760 503.8,767.6 C507,770 512,771.5 517.6,772.6 C525,773.5 530,773.2 535,773.2 C542,772.5 548,771.4 555.2,770.1" stroke="#141414" stroke-width="1.1" fill="none"/>
<path d="M428.8,757.2 H481.8 C490,757.5 496,764 503,770 C509,775.5 512,778.9 516.3,778.9 C525,780.5 535,780.5 547.7,777.6 C551,775 553,771 556,770.3" stroke="#141414" stroke-width="1.0" fill="none"/>
<path d="M555,769.9 H637.8 V798.3 H428.6" stroke="#141414" stroke-width="1.1" fill="none"/>
<line x1="429.5" y1="770.1" x2="501.0" y2="770.1" stroke="#444" stroke-width="0.8"/>
<path d="M510.3,747 V676.5 Q510.3,672.0 515,672.0 H536.6 Q541.3,672.0 541.3,676.5 V748.2" stroke="#141414" stroke-width="1.0" fill="none"/>
<path d="M511.2,676 Q511.5,673.2 515.5,673.2 H536.5 Q540.4,673.2 540.4,676" stroke="#141414" stroke-width="2.2" fill="none"/>
<rect x="510.5" y="675.0" width="2.2" height="53.0" fill="#141414"/>
<rect x="513.6" y="674.0" width="2.3" height="57.0" fill="#141414"/>
<rect x="534.0" y="674.0" width="2.6" height="58.0" fill="#141414"/>
<rect x="538.4" y="674.0" width="1.6" height="46.0" fill="#141414"/>
<line x1="510.8" y1="728.0" x2="510.8" y2="747.0" stroke="#141414" stroke-width="1.0"/>
<line x1="515.8" y1="731.0" x2="515.8" y2="747.0" stroke="#141414" stroke-width="1.0"/>
<line x1="510.8" y1="747.0" x2="515.8" y2="747.0" stroke="#141414" stroke-width="1.0"/>
<line x1="536.2" y1="731.0" x2="536.2" y2="748.2" stroke="#141414" stroke-width="1.0"/>
<line x1="541.3" y1="731.0" x2="541.3" y2="748.2" stroke="#141414" stroke-width="1.0"/>
<line x1="536.2" y1="748.2" x2="541.3" y2="748.2" stroke="#141414" stroke-width="1.0"/>
<g clip-path="url(#core)">
<path d="M446.8,732 L503.8,675 M449.1,732 L506.1,675 M451.4,732 L508.4,675 M453.7,732 L510.7,675 M456.0,732 L513.0,675 M458.3,732 L515.3,675 M460.6,732 L517.6,675 M462.9,732 L519.9,675 M465.2,732 L522.2,675 M467.5,732 L524.5,675 M469.8,732 L526.8,675 M472.1,732 L529.1,675 M474.4,732 L531.4,675 M476.7,732 L533.7,675 M479.0,732 L536.0,675 M481.3,732 L538.3,675 M483.6,732 L540.6,675 M485.9,732 L542.9,675 M488.2,732 L545.2,675 M490.5,732 L547.5,675 M492.8,732 L549.8,675 M495.1,732 L552.1,675 M497.4,732 L554.4,675 M499.7,732 L556.7,675 M502.0,732 L559.0,675 M504.3,732 L561.3,675 M506.6,732 L563.6,675 M508.9,732 L565.9,675 M511.2,732 L568.2,675 M513.5,732 L570.5,675 M515.8,732 L572.8,675 M518.1,732 L575.1,675 M520.4,732 L577.4,675 M522.7,732 L579.7,675 M525.0,732 L582.0,675 M527.3,732 L584.3,675 M529.6,732 L586.6,675 M531.9,732 L588.9,675 M534.2,732 L591.2,675 M536.5,732 L593.5,675 M538.8,732 L595.8,675 M541.1,732 L598.1,675 M543.4,732 L600.4,675 M545.7,732 L602.7,675 M548.0,732 L605.0,675 M550.3,732 L607.3,675 M552.6,732 L609.6,675 M554.9,732 L611.9,675 M557.2,732 L614.2,675 M559.5,732 L616.5,675 M561.8,732 L618.8,675 M564.1,732 L621.1,675 M566.4,732 L623.4,675 M568.7,732 L625.7,675 M571.0,732 L628.0,675 M573.3,732 L630.3,675 M575.6,732 L632.6,675 M577.9,732 L634.9,675 M580.2,732 L637.2,675 M582.5,732 L639.5,675" stroke="#141414" stroke-width="1.0" fill="none"/>
</g>
<path d="M515.8,739.4 Q526,745 536.2,739.4" stroke="#141414" stroke-width="0.9" fill="none"/>
<path d="M516.0,743.2 L514.5,764.2 M517.0,747.4 L516.3,755.9 M517.9,743.7 L516.9,762.3 M518.9,746.8 L518.5,756.1 M519.8,743.2 L519.3,762.9 M520.8,748.3 L520.6,756.1 M521.7,744.1 L521.7,763.9 M522.6,747.8 L522.8,755.2 M523.6,743.8 L524.1,765.5 M524.5,747.6 L524.9,756.3 M525.5,743.8 L526.5,762.3 M526.5,747.9 L527.1,756.2 M527.4,743.3 L528.9,762.1 M528.4,748.1 L529.2,756.0 M529.3,743.9 L531.3,765.5 M530.2,747.9 L531.4,756.8 M531.2,743.4 L533.7,765.2 M532.1,747.5 L533.5,756.6 M533.1,744.1 L536.1,762.4 M534.0,747.0 L535.7,754.9 M535.0,744.2 L538.5,763.7 M536.0,747.7 L537.8,755.5" stroke="#141414" stroke-width="0.55" fill="none"/>
<path d="M527.2,763.9h0.6 M523.1,765.9h0.6 M529.2,769.0h0.6 M531.7,769.3h0.6 M536.3,769.9h0.6 M531.5,761.6h0.6 M536.4,769.6h0.6 M537.5,765.7h0.6 M532.6,762.1h0.6 M535.6,765.7h0.6 M521.4,760.6h0.6 M536.2,769.9h0.6 M516.3,768.0h0.6 M524.7,761.5h0.6 M521.6,767.7h0.6 M536.7,760.4h0.6 M530.0,760.4h0.6 M532.7,763.3h0.6 M536.9,769.8h0.6 M527.1,770.0h0.6 M522.1,760.8h0.6 M529.6,760.3h0.6 M519.1,764.1h0.6 M529.9,761.6h0.6 M515.1,768.7h0.6 M522.2,769.6h0.6 M537.3,763.8h0.6 M526.0,765.2h0.6 M530.7,766.0h0.6 M528.5,766.2h0.6 M538.5,765.1h0.6 M525.2,767.2h0.6 M520.2,763.0h0.6 M539.4,765.2h0.6 M528.3,760.1h0.6 M524.8,765.8h0.6 M514.5,766.2h0.6 M530.4,760.6h0.6 M530.3,764.7h0.6 M531.7,763.5h0.6" stroke="#141414" stroke-width="0.6" fill="none"/>
<path d="M505.7,736.9 Q501,734.5 497.5,741.3 Q493,741.5 494.4,746.9 Q489.5,748 490,752 Q486,753 486,755.5" stroke="#141414" stroke-width="0.8" fill="none"/>
<path d="M508.5,746.5 Q503,746 501.3,750.3 Q497,752 498.2,756 Q496,759 499,762 L501.3,766.4" stroke="#141414" stroke-width="0.7" fill="none"/>
<path d="M542,737.5 Q546,735 550.2,738.8 Q555.5,739 555.2,743.8 Q560.5,745.5 560.2,750 Q565,751 564,753.8 Q568,756 566.5,760 Q571,762.5 570.2,766.4 L570.2,769.8" stroke="#141414" stroke-width="0.8" fill="none"/>
<path d="M541.4,748.8 Q547,748 550.2,751.3 Q554.5,753.5 554,757.6 Q557.5,759.5 557,762.6 Q560.5,765 560.2,768.9" stroke="#141414" stroke-width="0.7" fill="none"/>
<text x="456.8" y="666.0" style="font-family:&quot;Liberation Sans&quot;,sans-serif;font-size:7.8px;font-weight:normal;letter-spacing:0px" text-anchor="start" fill="#000" stroke="#000" stroke-width="0.12" textLength="44.2" lengthAdjust="spacingAndGlyphs">ELECTRODE</text>
<path d="M504,662.5 H520 Q523,663 525,672" stroke="#141414" stroke-width="0.8" fill="none"/>
<line x1="524.3" y1="668.5" x2="525.3" y2="673.0" stroke="#141414" stroke-width="0.7"/>
<path d="M525.3,673.0L523.9,671.3L525.8,670.8Z" stroke="#141414" stroke-width="0.3" fill="#141414"/>
<text x="438.4" y="706.0" style="font-family:&quot;Liberation Sans&quot;,sans-serif;font-size:7.8px;font-weight:normal;letter-spacing:0px" text-anchor="start" fill="#000" stroke="#000" stroke-width="0.12" textLength="51.8" lengthAdjust="spacingAndGlyphs">MOLTEN POOL</text>
<path d="M492,703.2 H498 L510.5,769" stroke="#141414" stroke-width="0.7" fill="none" stroke-dasharray="1.6,1"/>
<line x1="510.0" y1="764.0" x2="511.0" y2="769.8" stroke="#141414" stroke-width="0.6"/>
<path d="M511.0,769.8L509.7,768.0L511.6,767.7Z" stroke="#141414" stroke-width="0.3" fill="#141414"/>
<text x="432.5" y="741.1" style="font-family:&quot;Liberation Sans&quot;,sans-serif;font-size:7.8px;font-weight:normal;letter-spacing:0px" text-anchor="start" fill="#000" stroke="#000" stroke-width="0.12" textLength="19.3" lengthAdjust="spacingAndGlyphs">SLAG</text>
<path d="M454.5,738.3 H459 Q464,740 468.5,749" stroke="#141414" stroke-width="0.7" fill="none" stroke-dasharray="1.6,1"/>
<line x1="467.5" y1="746.5" x2="469.0" y2="750.8" stroke="#141414" stroke-width="0.6"/>
<path d="M469.0,750.8L467.4,749.2L469.3,748.6Z" stroke="#141414" stroke-width="0.3" fill="#141414"/>
<text x="566.8" y="671.0" style="font-family:&quot;Liberation Sans&quot;,sans-serif;font-size:7.8px;font-weight:normal;letter-spacing:0px" text-anchor="start" fill="#000" stroke="#000" stroke-width="0.12" textLength="41.8" lengthAdjust="spacingAndGlyphs">EXTRUDED</text>
<text x="566.8" y="679.3" style="font-family:&quot;Liberation Sans&quot;,sans-serif;font-size:7.8px;font-weight:normal;letter-spacing:0px" text-anchor="start" fill="#000" stroke="#000" stroke-width="0.12" textLength="36.0" lengthAdjust="spacingAndGlyphs">COVERING</text>
<path d="M563.5,667.5 H558.5 Q553,670 543,682.5" stroke="#141414" stroke-width="0.7" fill="none"/>
<line x1="545.0" y1="680.0" x2="542.5" y2="683.0" stroke="#141414" stroke-width="0.6"/>
<path d="M542.5,683.0L543.0,680.8L544.5,682.1Z" stroke="#141414" stroke-width="0.3" fill="#141414"/>
<text x="567.6" y="706.8" style="font-family:&quot;Liberation Sans&quot;,sans-serif;font-size:7.8px;font-weight:normal;letter-spacing:0px" text-anchor="start" fill="#000" stroke="#000" stroke-width="0.12" textLength="35.1" lengthAdjust="spacingAndGlyphs">GASEOUS</text>
<text x="567.6" y="715.2" style="font-family:&quot;Liberation Sans&quot;,sans-serif;font-size:7.8px;font-weight:normal;letter-spacing:0px" text-anchor="start" fill="#000" stroke="#000" stroke-width="0.12" textLength="26.0" lengthAdjust="spacingAndGlyphs">SHIELD</text>
<path d="M565,703.5 L547,734" stroke="#141414" stroke-width="0.7" fill="none" stroke-dasharray="1.5,1"/>
<line x1="548.5" y1="731.5" x2="546.8" y2="735.0" stroke="#141414" stroke-width="0.6"/>
<path d="M546.8,735.0L546.8,732.8L548.6,733.6Z" stroke="#141414" stroke-width="0.3" fill="#141414"/>
<text x="577.7" y="741.1" style="font-family:&quot;Liberation Sans&quot;,sans-serif;font-size:7.8px;font-weight:normal;letter-spacing:0px" text-anchor="start" fill="#000" stroke="#000" stroke-width="0.12" textLength="50.1" lengthAdjust="spacingAndGlyphs">ARC STREAM</text>
<path d="M575.5,737.3 H563 L540,757.5" stroke="#141414" stroke-width="0.7" fill="none"/>
<line x1="542.0" y1="755.5" x2="539.0" y2="758.3" stroke="#141414" stroke-width="0.6"/>
<path d="M539.0,758.3L539.8,756.2L541.1,757.7Z" stroke="#141414" stroke-width="0.3" fill="#141414"/>
<text x="585.2" y="762.8" style="font-family:&quot;Liberation Sans&quot;,sans-serif;font-size:7.8px;font-weight:normal;letter-spacing:0px" text-anchor="start" fill="#000" stroke="#000" stroke-width="0.12" textLength="50.1" lengthAdjust="spacingAndGlyphs">BASE METAL</text>
<path d="M582.5,759.5 L572,782.5" stroke="#141414" stroke-width="0.7" fill="none"/>
<line x1="573.0" y1="780.0" x2="571.7" y2="783.2" stroke="#141414" stroke-width="0.6"/>
<path d="M571.7,783.2L571.5,781.0L573.4,781.7Z" stroke="#141414" stroke-width="0.3" fill="#141414"/>
</g>
<text x="431.7" y="814.5" style="font-family:&quot;Liberation Serif&quot;,serif;font-size:10px;font-weight:bold;letter-spacing:0px" text-anchor="start" fill="#000" stroke="#000" stroke-width="0.3" textLength="57.5" lengthAdjust="spacingAndGlyphs">FIGURE 1.10</text>
<text x="500.3" y="814.5" style="font-family:&quot;Liberation Serif&quot;,serif;font-size:10px;font-weight:normal;letter-spacing:0px" text-anchor="start" fill="#000" stroke="#000" stroke-width="0.3" textLength="138.7" lengthAdjust="spacingAndGlyphs">Shielded metal arc welding process.</text>
</svg></body></html>
